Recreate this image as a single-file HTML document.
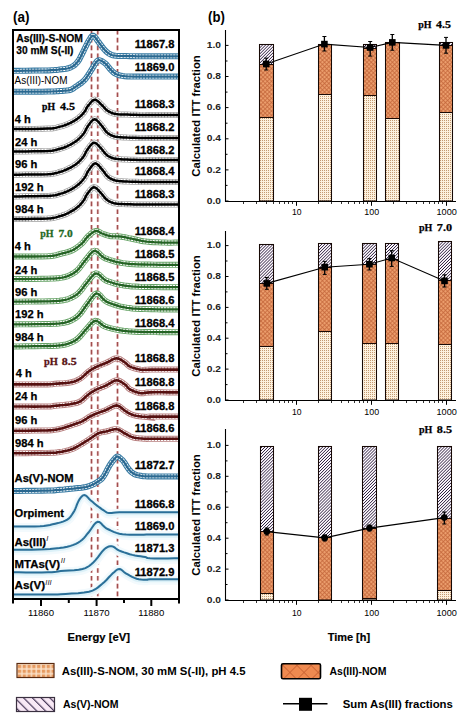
<!DOCTYPE html>
<html><head><meta charset="utf-8"><style>
html,body{margin:0;padding:0;background:#fff;width:462px;height:726px;overflow:hidden}
svg{display:block}
</style></head><body>
<svg width="462" height="726" viewBox="0 0 462 726" font-family="Liberation Sans, sans-serif">
<defs>
<pattern id="hatch" patternUnits="userSpaceOnUse" width="2.15" height="3" patternTransform="rotate(45)"><rect width="2.15" height="3" fill="#fef9fe"/><rect width="0.68" height="3" fill="#1e1232"/></pattern>
<pattern id="cross" patternUnits="userSpaceOnUse" width="3" height="3" patternTransform="rotate(45)"><rect width="3" height="3" fill="#eb9d6c"/><rect width="0.75" height="3" fill="#c4663a"/><rect width="3" height="0.75" fill="#c4663a"/></pattern>
<pattern id="stip" patternUnits="userSpaceOnUse" width="2" height="2"><rect width="2" height="2" fill="#fdf1de"/><rect width="1" height="1" fill="#c49a72"/></pattern>
<pattern id="lgrid" patternUnits="userSpaceOnUse" width="4.8" height="4.8" x="17" y="664"><rect width="4.8" height="4.8" fill="#fbe4cc"/><rect x="0.8" y="0.8" width="3.4" height="3.4" fill="#e69a60"/></pattern>
<pattern id="lhatch" patternUnits="userSpaceOnUse" width="6.2" height="6.2" patternTransform="rotate(-45)"><rect width="6.2" height="6.2" fill="#f9e9f6"/><rect width="1.2" height="6.2" fill="#4a3a5a"/></pattern>
<pattern id="lcross" patternUnits="userSpaceOnUse" width="10" height="10" patternTransform="rotate(45)"><rect width="10" height="10" fill="#ef8a50"/><rect width="0.8" height="10" fill="#c86030"/><rect width="10" height="0.8" fill="#c86030"/></pattern>
</defs>
<rect width="462" height="726" fill="#ffffff"/>
<text x="13.0" y="22.3" font-size="14.50" font-weight="bold" text-anchor="start" fill="#000" font-family="Liberation Sans" textLength="16.5" lengthAdjust="spacingAndGlyphs">(a)</text>
<line x1="91.5" y1="30" x2="91.5" y2="598" stroke="#f3d8d8" stroke-width="3" stroke-dasharray="4.6 3.2"/>
<line x1="91.5" y1="30" x2="91.5" y2="598" stroke="#a04e4e" stroke-width="1.4" stroke-dasharray="4.6 3.2"/>
<line x1="97.8" y1="30" x2="97.8" y2="598" stroke="#f3d8d8" stroke-width="3" stroke-dasharray="4.6 3.2"/>
<line x1="97.8" y1="30" x2="97.8" y2="598" stroke="#a04e4e" stroke-width="1.4" stroke-dasharray="4.6 3.2"/>
<line x1="117.5" y1="30" x2="117.5" y2="598" stroke="#f3d8d8" stroke-width="3" stroke-dasharray="4.6 3.2"/>
<line x1="117.5" y1="30" x2="117.5" y2="598" stroke="#a04e4e" stroke-width="1.4" stroke-dasharray="4.6 3.2"/>
<path d="M13.5,70.8 L18.6,70.8 L25.9,70.7 L34.2,70.6 L42.0,70.5 L48.0,70.4 L51.9,70.2 L54.5,70.1 L56.4,69.9 L58.1,69.7 L60.0,69.4 L62.2,69.2 L64.3,69.0 L66.3,68.7 L68.2,68.3 L70.0,67.7 L71.7,66.9 L73.3,66.0 L74.8,64.9 L76.2,63.5 L77.7,61.8 L79.2,59.6 L80.6,56.9 L82.0,54.1 L83.4,51.3 L84.6,48.8 L85.7,46.6 L86.8,44.5 L87.7,42.6 L88.6,40.9 L89.5,39.5 L90.3,38.2 L91.0,37.1 L91.7,36.3 L92.5,35.8 L93.3,35.8 L94.3,36.4 L95.3,37.5 L96.4,38.9 L97.4,40.5 L98.5,41.9 L99.5,43.3 L100.5,44.7 L101.6,46.1 L102.6,47.5 L103.7,48.8 L104.8,50.0 L106.0,51.2 L107.3,52.3 L108.5,53.2 L109.7,54.0 L110.8,54.6 L111.8,55.0 L112.8,55.3 L114.1,55.5 L115.8,55.7 L118.0,55.9 L120.5,56.0 L123.3,56.1 L126.4,56.1 L129.7,56.2 L133.2,56.2 L137.0,56.3 L141.0,56.3 L145.3,56.3 L150.0,56.3 L155.6,56.3 L162.2,56.3 L168.8,56.3 L174.5,56.3 L178.5,56.3" fill="none" stroke="#3a7ca4" stroke-width="6"/>
<path d="M13.5,70.8 L18.6,70.8 L25.9,70.7 L34.2,70.6 L42.0,70.5 L48.0,70.4 L51.9,70.2 L54.5,70.1 L56.4,69.9 L58.1,69.7 L60.0,69.4 L62.2,69.2 L64.3,69.0 L66.3,68.7 L68.2,68.3 L70.0,67.7 L71.7,66.9 L73.3,66.0 L74.8,64.9 L76.2,63.5 L77.7,61.8 L79.2,59.6 L80.6,56.9 L82.0,54.1 L83.4,51.3 L84.6,48.8 L85.7,46.6 L86.8,44.5 L87.7,42.6 L88.6,40.9 L89.5,39.5 L90.3,38.2 L91.0,37.1 L91.7,36.3 L92.5,35.8 L93.3,35.8 L94.3,36.4 L95.3,37.5 L96.4,38.9 L97.4,40.5 L98.5,41.9 L99.5,43.3 L100.5,44.7 L101.6,46.1 L102.6,47.5 L103.7,48.8 L104.8,50.0 L106.0,51.2 L107.3,52.3 L108.5,53.2 L109.7,54.0 L110.8,54.6 L111.8,55.0 L112.8,55.3 L114.1,55.5 L115.8,55.7 L118.0,55.9 L120.5,56.0 L123.3,56.1 L126.4,56.1 L129.7,56.2 L133.2,56.2 L137.0,56.3 L141.0,56.3 L145.3,56.3 L150.0,56.3 L155.6,56.3 L162.2,56.3 L168.8,56.3 L174.5,56.3 L178.5,56.3" fill="none" stroke="#ffffff" stroke-width="3.8" stroke-dasharray="2.2 0.9"/>
<path d="M13.5,70.8 L18.6,70.8 L25.9,70.7 L34.2,70.6 L42.0,70.5 L48.0,70.4 L51.9,70.2 L54.5,70.1 L56.4,69.9 L58.1,69.7 L60.0,69.4 L62.2,69.2 L64.3,69.0 L66.3,68.7 L68.2,68.3 L70.0,67.7 L71.7,66.9 L73.3,66.0 L74.8,64.9 L76.2,63.5 L77.7,61.8 L79.2,59.6 L80.6,56.9 L82.0,54.1 L83.4,51.3 L84.6,48.8 L85.7,46.6 L86.8,44.5 L87.7,42.6 L88.6,40.9 L89.5,39.5 L90.3,38.2 L91.0,37.1 L91.7,36.3 L92.5,35.8 L93.3,35.8 L94.3,36.4 L95.3,37.5 L96.4,38.9 L97.4,40.5 L98.5,41.9 L99.5,43.3 L100.5,44.7 L101.6,46.1 L102.6,47.5 L103.7,48.8 L104.8,50.0 L106.0,51.2 L107.3,52.3 L108.5,53.2 L109.7,54.0 L110.8,54.6 L111.8,55.0 L112.8,55.3 L114.1,55.5 L115.8,55.7 L118.0,55.9 L120.5,56.0 L123.3,56.1 L126.4,56.1 L129.7,56.2 L133.2,56.2 L137.0,56.3 L141.0,56.3 L145.3,56.3 L150.0,56.3 L155.6,56.3 L162.2,56.3 L168.8,56.3 L174.5,56.3 L178.5,56.3" fill="none" stroke="#2a6890" stroke-width="2.2"/>
<path d="M13.5,91.7 L18.6,91.7 L25.9,91.7 L34.2,91.7 L42.0,91.7 L48.0,91.6 L51.9,91.5 L54.5,91.4 L56.4,91.3 L58.1,91.2 L60.0,91.0 L62.2,90.9 L64.3,90.7 L66.4,90.6 L68.3,90.4 L70.0,90.0 L71.4,89.5 L72.6,88.9 L73.6,88.2 L74.7,87.4 L76.0,86.5 L77.6,85.5 L79.3,84.3 L81.2,83.0 L82.9,81.6 L84.6,80.0 L86.1,78.1 L87.6,76.0 L89.1,73.7 L90.4,71.5 L91.6,69.6 L92.7,67.9 L93.6,66.3 L94.4,64.8 L95.2,63.6 L96.0,62.5 L96.7,61.6 L97.3,61.0 L97.9,60.5 L98.6,60.2 L99.4,60.2 L100.4,60.5 L101.7,61.0 L102.9,61.7 L104.2,62.6 L105.4,63.5 L106.5,64.6 L107.5,65.8 L108.6,67.2 L109.6,68.5 L110.6,69.6 L111.6,70.6 L112.5,71.5 L113.5,72.4 L114.5,73.2 L115.8,73.9 L117.2,74.5 L118.7,75.1 L120.4,75.5 L122.3,75.9 L124.5,76.2 L127.3,76.4 L130.5,76.5 L133.9,76.6 L137.1,76.6 L140.0,76.6 L142.1,76.6 L143.5,76.6 L144.9,76.6 L146.9,76.6 L150.0,76.6 L155.0,76.6 L161.4,76.6 L168.3,76.6 L174.3,76.6 L178.5,76.6" fill="none" stroke="#3a7ca4" stroke-width="6"/>
<path d="M13.5,91.7 L18.6,91.7 L25.9,91.7 L34.2,91.7 L42.0,91.7 L48.0,91.6 L51.9,91.5 L54.5,91.4 L56.4,91.3 L58.1,91.2 L60.0,91.0 L62.2,90.9 L64.3,90.7 L66.4,90.6 L68.3,90.4 L70.0,90.0 L71.4,89.5 L72.6,88.9 L73.6,88.2 L74.7,87.4 L76.0,86.5 L77.6,85.5 L79.3,84.3 L81.2,83.0 L82.9,81.6 L84.6,80.0 L86.1,78.1 L87.6,76.0 L89.1,73.7 L90.4,71.5 L91.6,69.6 L92.7,67.9 L93.6,66.3 L94.4,64.8 L95.2,63.6 L96.0,62.5 L96.7,61.6 L97.3,61.0 L97.9,60.5 L98.6,60.2 L99.4,60.2 L100.4,60.5 L101.7,61.0 L102.9,61.7 L104.2,62.6 L105.4,63.5 L106.5,64.6 L107.5,65.8 L108.6,67.2 L109.6,68.5 L110.6,69.6 L111.6,70.6 L112.5,71.5 L113.5,72.4 L114.5,73.2 L115.8,73.9 L117.2,74.5 L118.7,75.1 L120.4,75.5 L122.3,75.9 L124.5,76.2 L127.3,76.4 L130.5,76.5 L133.9,76.6 L137.1,76.6 L140.0,76.6 L142.1,76.6 L143.5,76.6 L144.9,76.6 L146.9,76.6 L150.0,76.6 L155.0,76.6 L161.4,76.6 L168.3,76.6 L174.3,76.6 L178.5,76.6" fill="none" stroke="#ffffff" stroke-width="3.8" stroke-dasharray="2.2 0.9"/>
<path d="M13.5,91.7 L18.6,91.7 L25.9,91.7 L34.2,91.7 L42.0,91.7 L48.0,91.6 L51.9,91.5 L54.5,91.4 L56.4,91.3 L58.1,91.2 L60.0,91.0 L62.2,90.9 L64.3,90.7 L66.4,90.6 L68.3,90.4 L70.0,90.0 L71.4,89.5 L72.6,88.9 L73.6,88.2 L74.7,87.4 L76.0,86.5 L77.6,85.5 L79.3,84.3 L81.2,83.0 L82.9,81.6 L84.6,80.0 L86.1,78.1 L87.6,76.0 L89.1,73.7 L90.4,71.5 L91.6,69.6 L92.7,67.9 L93.6,66.3 L94.4,64.8 L95.2,63.6 L96.0,62.5 L96.7,61.6 L97.3,61.0 L97.9,60.5 L98.6,60.2 L99.4,60.2 L100.4,60.5 L101.7,61.0 L102.9,61.7 L104.2,62.6 L105.4,63.5 L106.5,64.6 L107.5,65.8 L108.6,67.2 L109.6,68.5 L110.6,69.6 L111.6,70.6 L112.5,71.5 L113.5,72.4 L114.5,73.2 L115.8,73.9 L117.2,74.5 L118.7,75.1 L120.4,75.5 L122.3,75.9 L124.5,76.2 L127.3,76.4 L130.5,76.5 L133.9,76.6 L137.1,76.6 L140.0,76.6 L142.1,76.6 L143.5,76.6 L144.9,76.6 L146.9,76.6 L150.0,76.6 L155.0,76.6 L161.4,76.6 L168.3,76.6 L174.3,76.6 L178.5,76.6" fill="none" stroke="#2a6890" stroke-width="2.2"/>
<path d="M13.5,129.1 L18.6,129.1 L25.9,129.0 L34.2,129.0 L42.1,128.8 L48.1,128.6 L52.0,128.4 L54.7,128.0 L56.6,127.6 L58.3,127.1 L60.1,126.6 L62.1,126.1 L63.8,125.6 L65.5,125.0 L67.1,124.4 L68.8,123.6 L70.6,122.8 L72.3,121.9 L74.1,120.9 L75.8,119.9 L77.4,118.8 L78.9,117.6 L80.3,116.4 L81.6,115.2 L82.8,113.9 L83.9,112.6 L84.9,111.2 L85.7,109.8 L86.4,108.4 L87.2,107.0 L88.2,105.6 L89.4,104.2 L90.6,102.7 L92.0,101.2 L93.3,100.2 L94.7,99.7 L96.1,100.0 L97.5,100.9 L99.0,102.2 L100.3,103.6 L101.6,104.8 L102.7,105.9 L103.7,107.0 L104.7,108.1 L105.6,109.2 L106.6,110.1 L107.6,110.8 L108.5,111.4 L109.5,111.9 L110.5,112.4 L111.6,112.8 L112.6,113.2 L113.6,113.5 L114.7,113.7 L116.1,114.0 L118.1,114.2 L120.7,114.4 L123.8,114.5 L127.2,114.6 L131.0,114.7 L135.1,114.8 L139.7,114.9 L144.8,114.9 L150.2,115.0 L155.4,115.0 L160.1,115.0 L164.5,115.0 L168.8,115.0 L172.8,115.0 L176.1,115.0 L178.5,115.0" fill="none" stroke="#a0a0a0" stroke-width="6"/>
<path d="M13.5,129.1 L18.6,129.1 L25.9,129.0 L34.2,129.0 L42.1,128.8 L48.1,128.6 L52.0,128.4 L54.7,128.0 L56.6,127.6 L58.3,127.1 L60.1,126.6 L62.1,126.1 L63.8,125.6 L65.5,125.0 L67.1,124.4 L68.8,123.6 L70.6,122.8 L72.3,121.9 L74.1,120.9 L75.8,119.9 L77.4,118.8 L78.9,117.6 L80.3,116.4 L81.6,115.2 L82.8,113.9 L83.9,112.6 L84.9,111.2 L85.7,109.8 L86.4,108.4 L87.2,107.0 L88.2,105.6 L89.4,104.2 L90.6,102.7 L92.0,101.2 L93.3,100.2 L94.7,99.7 L96.1,100.0 L97.5,100.9 L99.0,102.2 L100.3,103.6 L101.6,104.8 L102.7,105.9 L103.7,107.0 L104.7,108.1 L105.6,109.2 L106.6,110.1 L107.6,110.8 L108.5,111.4 L109.5,111.9 L110.5,112.4 L111.6,112.8 L112.6,113.2 L113.6,113.5 L114.7,113.7 L116.1,114.0 L118.1,114.2 L120.7,114.4 L123.8,114.5 L127.2,114.6 L131.0,114.7 L135.1,114.8 L139.7,114.9 L144.8,114.9 L150.2,115.0 L155.4,115.0 L160.1,115.0 L164.5,115.0 L168.8,115.0 L172.8,115.0 L176.1,115.0 L178.5,115.0" fill="none" stroke="#ffffff" stroke-width="4.6" stroke-dasharray="2.2 0.9"/>
<path d="M13.5,129.1 L18.6,129.1 L25.9,129.0 L34.2,129.0 L42.1,128.8 L48.1,128.6 L52.0,128.4 L54.7,128.0 L56.6,127.6 L58.3,127.1 L60.1,126.6 L62.1,126.1 L63.8,125.6 L65.5,125.0 L67.1,124.4 L68.8,123.6 L70.6,122.8 L72.3,121.9 L74.1,120.9 L75.8,119.9 L77.4,118.8 L78.9,117.6 L80.3,116.4 L81.6,115.2 L82.8,113.9 L83.9,112.6 L84.9,111.2 L85.7,109.8 L86.4,108.4 L87.2,107.0 L88.2,105.6 L89.4,104.2 L90.6,102.7 L92.0,101.2 L93.3,100.2 L94.7,99.7 L96.1,100.0 L97.5,100.9 L99.0,102.2 L100.3,103.6 L101.6,104.8 L102.7,105.9 L103.7,107.0 L104.7,108.1 L105.6,109.2 L106.6,110.1 L107.6,110.8 L108.5,111.4 L109.5,111.9 L110.5,112.4 L111.6,112.8 L112.6,113.2 L113.6,113.5 L114.7,113.7 L116.1,114.0 L118.1,114.2 L120.7,114.4 L123.8,114.5 L127.2,114.6 L131.0,114.7 L135.1,114.8 L139.7,114.9 L144.8,114.9 L150.2,115.0 L155.4,115.0 L160.1,115.0 L164.5,115.0 L168.8,115.0 L172.8,115.0 L176.1,115.0 L178.5,115.0" fill="none" stroke="#000000" stroke-width="2.5"/>
<path d="M13.5,151.5 L18.6,151.5 L25.9,151.4 L34.2,151.3 L42.0,151.2 L48.0,151.0 L51.9,150.7 L54.6,150.3 L56.5,149.8 L58.2,149.3 L60.0,148.8 L62.0,148.2 L63.7,147.7 L65.4,147.0 L67.0,146.3 L68.7,145.5 L70.5,144.6 L72.2,143.6 L74.0,142.5 L75.7,141.4 L77.3,140.2 L78.8,138.9 L80.2,137.6 L81.5,136.2 L82.7,134.8 L83.8,133.4 L84.8,131.9 L85.6,130.4 L86.3,128.8 L87.1,127.3 L88.1,125.8 L89.3,124.2 L90.5,122.5 L91.9,120.9 L93.2,119.8 L94.6,119.3 L96.0,119.7 L97.4,120.9 L98.9,122.4 L100.2,124.0 L101.5,125.5 L102.6,126.8 L103.6,128.2 L104.6,129.6 L105.5,130.9 L106.5,132.0 L107.5,132.9 L108.4,133.6 L109.4,134.2 L110.4,134.8 L111.5,135.3 L112.5,135.8 L113.5,136.1 L114.6,136.5 L116.0,136.7 L118.0,137.0 L120.6,137.2 L123.7,137.4 L127.1,137.6 L130.9,137.7 L135.0,137.8 L139.6,137.9 L144.7,137.9 L150.1,138.0 L155.3,138.0 L160.0,138.0 L164.4,138.0 L168.8,138.0 L172.7,138.0 L176.1,138.0 L178.5,138.0" fill="none" stroke="#a0a0a0" stroke-width="6"/>
<path d="M13.5,151.5 L18.6,151.5 L25.9,151.4 L34.2,151.3 L42.0,151.2 L48.0,151.0 L51.9,150.7 L54.6,150.3 L56.5,149.8 L58.2,149.3 L60.0,148.8 L62.0,148.2 L63.7,147.7 L65.4,147.0 L67.0,146.3 L68.7,145.5 L70.5,144.6 L72.2,143.6 L74.0,142.5 L75.7,141.4 L77.3,140.2 L78.8,138.9 L80.2,137.6 L81.5,136.2 L82.7,134.8 L83.8,133.4 L84.8,131.9 L85.6,130.4 L86.3,128.8 L87.1,127.3 L88.1,125.8 L89.3,124.2 L90.5,122.5 L91.9,120.9 L93.2,119.8 L94.6,119.3 L96.0,119.7 L97.4,120.9 L98.9,122.4 L100.2,124.0 L101.5,125.5 L102.6,126.8 L103.6,128.2 L104.6,129.6 L105.5,130.9 L106.5,132.0 L107.5,132.9 L108.4,133.6 L109.4,134.2 L110.4,134.8 L111.5,135.3 L112.5,135.8 L113.5,136.1 L114.6,136.5 L116.0,136.7 L118.0,137.0 L120.6,137.2 L123.7,137.4 L127.1,137.6 L130.9,137.7 L135.0,137.8 L139.6,137.9 L144.7,137.9 L150.1,138.0 L155.3,138.0 L160.0,138.0 L164.4,138.0 L168.8,138.0 L172.7,138.0 L176.1,138.0 L178.5,138.0" fill="none" stroke="#ffffff" stroke-width="4.6" stroke-dasharray="2.2 0.9"/>
<path d="M13.5,151.5 L18.6,151.5 L25.9,151.4 L34.2,151.3 L42.0,151.2 L48.0,151.0 L51.9,150.7 L54.6,150.3 L56.5,149.8 L58.2,149.3 L60.0,148.8 L62.0,148.2 L63.7,147.7 L65.4,147.0 L67.0,146.3 L68.7,145.5 L70.5,144.6 L72.2,143.6 L74.0,142.5 L75.7,141.4 L77.3,140.2 L78.8,138.9 L80.2,137.6 L81.5,136.2 L82.7,134.8 L83.8,133.4 L84.8,131.9 L85.6,130.4 L86.3,128.8 L87.1,127.3 L88.1,125.8 L89.3,124.2 L90.5,122.5 L91.9,120.9 L93.2,119.8 L94.6,119.3 L96.0,119.7 L97.4,120.9 L98.9,122.4 L100.2,124.0 L101.5,125.5 L102.6,126.8 L103.6,128.2 L104.6,129.6 L105.5,130.9 L106.5,132.0 L107.5,132.9 L108.4,133.6 L109.4,134.2 L110.4,134.8 L111.5,135.3 L112.5,135.8 L113.5,136.1 L114.6,136.5 L116.0,136.7 L118.0,137.0 L120.6,137.2 L123.7,137.4 L127.1,137.6 L130.9,137.7 L135.0,137.8 L139.6,137.9 L144.7,137.9 L150.1,138.0 L155.3,138.0 L160.0,138.0 L164.4,138.0 L168.8,138.0 L172.7,138.0 L176.1,138.0 L178.5,138.0" fill="none" stroke="#000000" stroke-width="2.5"/>
<path d="M13.5,174.7 L18.5,174.7 L25.7,174.6 L33.9,174.5 L41.6,174.4 L47.6,174.2 L51.5,173.9 L54.1,173.5 L56.1,173.1 L57.8,172.6 L59.6,172.0 L61.6,171.5 L63.3,170.9 L65.0,170.2 L66.6,169.5 L68.3,168.7 L70.1,167.8 L71.8,166.8 L73.6,165.8 L75.3,164.7 L76.9,163.5 L78.4,162.2 L79.8,160.9 L81.1,159.5 L82.3,158.1 L83.4,156.7 L84.4,155.2 L85.2,153.7 L85.9,152.1 L86.7,150.6 L87.7,149.2 L88.9,147.6 L90.1,145.9 L91.5,144.4 L92.8,143.2 L94.2,142.7 L95.6,143.1 L97.0,144.1 L98.5,145.5 L99.8,147.1 L101.1,148.4 L102.2,149.7 L103.2,151.0 L104.2,152.2 L105.1,153.4 L106.1,154.4 L107.1,155.3 L108.0,156.0 L109.0,156.5 L110.0,157.0 L111.1,157.5 L112.1,157.9 L113.1,158.3 L114.2,158.6 L115.6,158.8 L117.6,159.1 L120.2,159.3 L123.3,159.5 L126.7,159.6 L130.5,159.7 L134.6,159.8 L139.2,159.9 L144.3,159.9 L149.7,160.0 L154.9,160.0 L159.6,160.0 L164.1,160.0 L168.5,160.0 L172.6,160.0 L176.0,160.0 L178.5,160.0" fill="none" stroke="#a0a0a0" stroke-width="6"/>
<path d="M13.5,174.7 L18.5,174.7 L25.7,174.6 L33.9,174.5 L41.6,174.4 L47.6,174.2 L51.5,173.9 L54.1,173.5 L56.1,173.1 L57.8,172.6 L59.6,172.0 L61.6,171.5 L63.3,170.9 L65.0,170.2 L66.6,169.5 L68.3,168.7 L70.1,167.8 L71.8,166.8 L73.6,165.8 L75.3,164.7 L76.9,163.5 L78.4,162.2 L79.8,160.9 L81.1,159.5 L82.3,158.1 L83.4,156.7 L84.4,155.2 L85.2,153.7 L85.9,152.1 L86.7,150.6 L87.7,149.2 L88.9,147.6 L90.1,145.9 L91.5,144.4 L92.8,143.2 L94.2,142.7 L95.6,143.1 L97.0,144.1 L98.5,145.5 L99.8,147.1 L101.1,148.4 L102.2,149.7 L103.2,151.0 L104.2,152.2 L105.1,153.4 L106.1,154.4 L107.1,155.3 L108.0,156.0 L109.0,156.5 L110.0,157.0 L111.1,157.5 L112.1,157.9 L113.1,158.3 L114.2,158.6 L115.6,158.8 L117.6,159.1 L120.2,159.3 L123.3,159.5 L126.7,159.6 L130.5,159.7 L134.6,159.8 L139.2,159.9 L144.3,159.9 L149.7,160.0 L154.9,160.0 L159.6,160.0 L164.1,160.0 L168.5,160.0 L172.6,160.0 L176.0,160.0 L178.5,160.0" fill="none" stroke="#ffffff" stroke-width="4.6" stroke-dasharray="2.2 0.9"/>
<path d="M13.5,174.7 L18.5,174.7 L25.7,174.6 L33.9,174.5 L41.6,174.4 L47.6,174.2 L51.5,173.9 L54.1,173.5 L56.1,173.1 L57.8,172.6 L59.6,172.0 L61.6,171.5 L63.3,170.9 L65.0,170.2 L66.6,169.5 L68.3,168.7 L70.1,167.8 L71.8,166.8 L73.6,165.8 L75.3,164.7 L76.9,163.5 L78.4,162.2 L79.8,160.9 L81.1,159.5 L82.3,158.1 L83.4,156.7 L84.4,155.2 L85.2,153.7 L85.9,152.1 L86.7,150.6 L87.7,149.2 L88.9,147.6 L90.1,145.9 L91.5,144.4 L92.8,143.2 L94.2,142.7 L95.6,143.1 L97.0,144.1 L98.5,145.5 L99.8,147.1 L101.1,148.4 L102.2,149.7 L103.2,151.0 L104.2,152.2 L105.1,153.4 L106.1,154.4 L107.1,155.3 L108.0,156.0 L109.0,156.5 L110.0,157.0 L111.1,157.5 L112.1,157.9 L113.1,158.3 L114.2,158.6 L115.6,158.8 L117.6,159.1 L120.2,159.3 L123.3,159.5 L126.7,159.6 L130.5,159.7 L134.6,159.8 L139.2,159.9 L144.3,159.9 L149.7,160.0 L154.9,160.0 L159.6,160.0 L164.1,160.0 L168.5,160.0 L172.6,160.0 L176.0,160.0 L178.5,160.0" fill="none" stroke="#000000" stroke-width="2.5"/>
<path d="M13.5,196.4 L18.7,196.4 L26.2,196.3 L34.6,196.2 L42.6,196.1 L48.7,195.9 L52.6,195.6 L55.3,195.2 L57.3,194.7 L58.9,194.2 L60.7,193.6 L62.7,193.1 L64.4,192.5 L66.1,191.8 L67.7,191.1 L69.4,190.3 L71.2,189.3 L72.9,188.3 L74.7,187.2 L76.4,186.0 L78.0,184.8 L79.5,183.5 L80.9,182.2 L82.2,180.8 L83.4,179.3 L84.5,177.9 L85.5,176.3 L86.3,174.7 L87.0,173.1 L87.8,171.6 L88.8,170.1 L90.0,168.5 L91.2,166.7 L92.6,165.1 L93.9,163.9 L95.3,163.4 L96.7,163.8 L98.1,164.9 L99.6,166.5 L100.9,168.1 L102.2,169.6 L103.3,170.9 L104.3,172.3 L105.3,173.7 L106.2,174.9 L107.2,176.0 L108.2,176.9 L109.1,177.7 L110.1,178.3 L111.1,178.8 L112.2,179.3 L113.2,179.8 L114.2,180.1 L115.3,180.5 L116.7,180.7 L118.7,181.0 L121.3,181.2 L124.4,181.4 L127.8,181.6 L131.6,181.7 L135.7,181.8 L140.3,181.9 L145.5,181.9 L150.8,182.0 L156.0,182.0 L160.7,182.0 L165.0,182.0 L169.2,182.0 L173.0,182.0 L176.2,182.0 L178.5,182.0" fill="none" stroke="#a0a0a0" stroke-width="6"/>
<path d="M13.5,196.4 L18.7,196.4 L26.2,196.3 L34.6,196.2 L42.6,196.1 L48.7,195.9 L52.6,195.6 L55.3,195.2 L57.3,194.7 L58.9,194.2 L60.7,193.6 L62.7,193.1 L64.4,192.5 L66.1,191.8 L67.7,191.1 L69.4,190.3 L71.2,189.3 L72.9,188.3 L74.7,187.2 L76.4,186.0 L78.0,184.8 L79.5,183.5 L80.9,182.2 L82.2,180.8 L83.4,179.3 L84.5,177.9 L85.5,176.3 L86.3,174.7 L87.0,173.1 L87.8,171.6 L88.8,170.1 L90.0,168.5 L91.2,166.7 L92.6,165.1 L93.9,163.9 L95.3,163.4 L96.7,163.8 L98.1,164.9 L99.6,166.5 L100.9,168.1 L102.2,169.6 L103.3,170.9 L104.3,172.3 L105.3,173.7 L106.2,174.9 L107.2,176.0 L108.2,176.9 L109.1,177.7 L110.1,178.3 L111.1,178.8 L112.2,179.3 L113.2,179.8 L114.2,180.1 L115.3,180.5 L116.7,180.7 L118.7,181.0 L121.3,181.2 L124.4,181.4 L127.8,181.6 L131.6,181.7 L135.7,181.8 L140.3,181.9 L145.5,181.9 L150.8,182.0 L156.0,182.0 L160.7,182.0 L165.0,182.0 L169.2,182.0 L173.0,182.0 L176.2,182.0 L178.5,182.0" fill="none" stroke="#ffffff" stroke-width="4.6" stroke-dasharray="2.2 0.9"/>
<path d="M13.5,196.4 L18.7,196.4 L26.2,196.3 L34.6,196.2 L42.6,196.1 L48.7,195.9 L52.6,195.6 L55.3,195.2 L57.3,194.7 L58.9,194.2 L60.7,193.6 L62.7,193.1 L64.4,192.5 L66.1,191.8 L67.7,191.1 L69.4,190.3 L71.2,189.3 L72.9,188.3 L74.7,187.2 L76.4,186.0 L78.0,184.8 L79.5,183.5 L80.9,182.2 L82.2,180.8 L83.4,179.3 L84.5,177.9 L85.5,176.3 L86.3,174.7 L87.0,173.1 L87.8,171.6 L88.8,170.1 L90.0,168.5 L91.2,166.7 L92.6,165.1 L93.9,163.9 L95.3,163.4 L96.7,163.8 L98.1,164.9 L99.6,166.5 L100.9,168.1 L102.2,169.6 L103.3,170.9 L104.3,172.3 L105.3,173.7 L106.2,174.9 L107.2,176.0 L108.2,176.9 L109.1,177.7 L110.1,178.3 L111.1,178.8 L112.2,179.3 L113.2,179.8 L114.2,180.1 L115.3,180.5 L116.7,180.7 L118.7,181.0 L121.3,181.2 L124.4,181.4 L127.8,181.6 L131.6,181.7 L135.7,181.8 L140.3,181.9 L145.5,181.9 L150.8,182.0 L156.0,182.0 L160.7,182.0 L165.0,182.0 L169.2,182.0 L173.0,182.0 L176.2,182.0 L178.5,182.0" fill="none" stroke="#000000" stroke-width="2.5"/>
<path d="M13.5,219.0 L18.5,219.0 L25.7,218.9 L33.8,218.8 L41.5,218.7 L47.4,218.5 L51.3,218.2 L53.9,217.8 L55.9,217.4 L57.6,216.9 L59.4,216.3 L61.4,215.8 L63.1,215.2 L64.8,214.6 L66.4,213.9 L68.1,213.1 L69.9,212.2 L71.6,211.2 L73.4,210.1 L75.1,209.0 L76.7,207.8 L78.2,206.6 L79.6,205.3 L80.9,203.9 L82.1,202.5 L83.2,201.1 L84.2,199.7 L85.0,198.1 L85.7,196.6 L86.5,195.1 L87.5,193.6 L88.7,192.1 L89.9,190.4 L91.3,188.8 L92.6,187.7 L94.0,187.2 L95.4,187.6 L96.8,188.6 L98.3,190.1 L99.6,191.6 L100.9,193.0 L102.0,194.2 L103.0,195.5 L104.0,196.8 L104.9,198.0 L105.9,199.0 L106.9,199.8 L107.8,200.5 L108.8,201.1 L109.8,201.6 L110.9,202.1 L111.9,202.5 L112.9,202.9 L114.0,203.2 L115.4,203.4 L117.4,203.7 L120.0,203.9 L123.1,204.1 L126.5,204.2 L130.3,204.3 L134.4,204.4 L139.0,204.5 L144.1,204.5 L149.4,204.6 L154.6,204.6 L159.4,204.6 L163.9,204.6 L168.4,204.6 L172.5,204.6 L176.0,204.6 L178.5,204.6" fill="none" stroke="#a0a0a0" stroke-width="6"/>
<path d="M13.5,219.0 L18.5,219.0 L25.7,218.9 L33.8,218.8 L41.5,218.7 L47.4,218.5 L51.3,218.2 L53.9,217.8 L55.9,217.4 L57.6,216.9 L59.4,216.3 L61.4,215.8 L63.1,215.2 L64.8,214.6 L66.4,213.9 L68.1,213.1 L69.9,212.2 L71.6,211.2 L73.4,210.1 L75.1,209.0 L76.7,207.8 L78.2,206.6 L79.6,205.3 L80.9,203.9 L82.1,202.5 L83.2,201.1 L84.2,199.7 L85.0,198.1 L85.7,196.6 L86.5,195.1 L87.5,193.6 L88.7,192.1 L89.9,190.4 L91.3,188.8 L92.6,187.7 L94.0,187.2 L95.4,187.6 L96.8,188.6 L98.3,190.1 L99.6,191.6 L100.9,193.0 L102.0,194.2 L103.0,195.5 L104.0,196.8 L104.9,198.0 L105.9,199.0 L106.9,199.8 L107.8,200.5 L108.8,201.1 L109.8,201.6 L110.9,202.1 L111.9,202.5 L112.9,202.9 L114.0,203.2 L115.4,203.4 L117.4,203.7 L120.0,203.9 L123.1,204.1 L126.5,204.2 L130.3,204.3 L134.4,204.4 L139.0,204.5 L144.1,204.5 L149.4,204.6 L154.6,204.6 L159.4,204.6 L163.9,204.6 L168.4,204.6 L172.5,204.6 L176.0,204.6 L178.5,204.6" fill="none" stroke="#ffffff" stroke-width="4.6" stroke-dasharray="2.2 0.9"/>
<path d="M13.5,219.0 L18.5,219.0 L25.7,218.9 L33.8,218.8 L41.5,218.7 L47.4,218.5 L51.3,218.2 L53.9,217.8 L55.9,217.4 L57.6,216.9 L59.4,216.3 L61.4,215.8 L63.1,215.2 L64.8,214.6 L66.4,213.9 L68.1,213.1 L69.9,212.2 L71.6,211.2 L73.4,210.1 L75.1,209.0 L76.7,207.8 L78.2,206.6 L79.6,205.3 L80.9,203.9 L82.1,202.5 L83.2,201.1 L84.2,199.7 L85.0,198.1 L85.7,196.6 L86.5,195.1 L87.5,193.6 L88.7,192.1 L89.9,190.4 L91.3,188.8 L92.6,187.7 L94.0,187.2 L95.4,187.6 L96.8,188.6 L98.3,190.1 L99.6,191.6 L100.9,193.0 L102.0,194.2 L103.0,195.5 L104.0,196.8 L104.9,198.0 L105.9,199.0 L106.9,199.8 L107.8,200.5 L108.8,201.1 L109.8,201.6 L110.9,202.1 L111.9,202.5 L112.9,202.9 L114.0,203.2 L115.4,203.4 L117.4,203.7 L120.0,203.9 L123.1,204.1 L126.5,204.2 L130.3,204.3 L134.4,204.4 L139.0,204.5 L144.1,204.5 L149.4,204.6 L154.6,204.6 L159.4,204.6 L163.9,204.6 L168.4,204.6 L172.5,204.6 L176.0,204.6 L178.5,204.6" fill="none" stroke="#000000" stroke-width="2.5"/>
<path d="M13.5,256.5 L18.6,256.5 L25.9,256.5 L34.2,256.5 L42.0,256.4 L48.0,256.2 L51.8,255.9 L54.4,255.5 L56.3,255.1 L58.0,254.6 L60.0,254.0 L62.4,253.4 L64.9,252.8 L67.4,252.2 L69.8,251.4 L72.0,250.5 L74.1,249.4 L76.2,248.1 L78.1,246.7 L79.9,245.2 L81.6,243.8 L83.1,242.3 L84.4,240.7 L85.6,239.1 L86.8,237.6 L88.1,236.2 L89.6,234.9 L91.1,233.6 L92.7,232.4 L94.2,231.5 L95.7,231.0 L97.0,231.0 L98.2,231.4 L99.4,232.1 L100.7,232.9 L102.0,233.5 L103.5,234.0 L105.1,234.6 L106.7,235.2 L108.3,235.6 L109.8,236.0 L111.1,236.2 L112.4,236.3 L113.5,236.3 L114.7,236.3 L116.0,236.3 L117.3,236.4 L118.6,236.4 L119.9,236.5 L121.4,236.7 L123.0,236.9 L124.8,237.2 L126.6,237.6 L128.6,238.1 L130.7,238.5 L133.0,239.0 L135.4,239.5 L138.0,240.1 L140.6,240.7 L143.5,241.2 L146.6,241.6 L150.1,241.9 L153.8,242.2 L157.8,242.3 L161.6,242.5 L165.0,242.6 L168.2,242.7 L171.4,242.7 L174.3,242.6 L176.7,242.6 L178.5,242.6" fill="none" stroke="#68a468" stroke-width="6"/>
<path d="M13.5,256.5 L18.6,256.5 L25.9,256.5 L34.2,256.5 L42.0,256.4 L48.0,256.2 L51.8,255.9 L54.4,255.5 L56.3,255.1 L58.0,254.6 L60.0,254.0 L62.4,253.4 L64.9,252.8 L67.4,252.2 L69.8,251.4 L72.0,250.5 L74.1,249.4 L76.2,248.1 L78.1,246.7 L79.9,245.2 L81.6,243.8 L83.1,242.3 L84.4,240.7 L85.6,239.1 L86.8,237.6 L88.1,236.2 L89.6,234.9 L91.1,233.6 L92.7,232.4 L94.2,231.5 L95.7,231.0 L97.0,231.0 L98.2,231.4 L99.4,232.1 L100.7,232.9 L102.0,233.5 L103.5,234.0 L105.1,234.6 L106.7,235.2 L108.3,235.6 L109.8,236.0 L111.1,236.2 L112.4,236.3 L113.5,236.3 L114.7,236.3 L116.0,236.3 L117.3,236.4 L118.6,236.4 L119.9,236.5 L121.4,236.7 L123.0,236.9 L124.8,237.2 L126.6,237.6 L128.6,238.1 L130.7,238.5 L133.0,239.0 L135.4,239.5 L138.0,240.1 L140.6,240.7 L143.5,241.2 L146.6,241.6 L150.1,241.9 L153.8,242.2 L157.8,242.3 L161.6,242.5 L165.0,242.6 L168.2,242.7 L171.4,242.7 L174.3,242.6 L176.7,242.6 L178.5,242.6" fill="none" stroke="#ffffff" stroke-width="4.2" stroke-dasharray="2.2 0.9"/>
<path d="M13.5,256.5 L18.6,256.5 L25.9,256.5 L34.2,256.5 L42.0,256.4 L48.0,256.2 L51.8,255.9 L54.4,255.5 L56.3,255.1 L58.0,254.6 L60.0,254.0 L62.4,253.4 L64.9,252.8 L67.4,252.2 L69.8,251.4 L72.0,250.5 L74.1,249.4 L76.2,248.1 L78.1,246.7 L79.9,245.2 L81.6,243.8 L83.1,242.3 L84.4,240.7 L85.6,239.1 L86.8,237.6 L88.1,236.2 L89.6,234.9 L91.1,233.6 L92.7,232.4 L94.2,231.5 L95.7,231.0 L97.0,231.0 L98.2,231.4 L99.4,232.1 L100.7,232.9 L102.0,233.5 L103.5,234.0 L105.1,234.6 L106.7,235.2 L108.3,235.6 L109.8,236.0 L111.1,236.2 L112.4,236.3 L113.5,236.3 L114.7,236.3 L116.0,236.3 L117.3,236.4 L118.6,236.4 L119.9,236.5 L121.4,236.7 L123.0,236.9 L124.8,237.2 L126.6,237.6 L128.6,238.1 L130.7,238.5 L133.0,239.0 L135.4,239.5 L138.0,240.1 L140.6,240.7 L143.5,241.2 L146.6,241.6 L150.1,241.9 L153.8,242.2 L157.8,242.3 L161.6,242.5 L165.0,242.6 L168.2,242.7 L171.4,242.7 L174.3,242.6 L176.7,242.6 L178.5,242.6" fill="none" stroke="#246224" stroke-width="2.3"/>
<path d="M13.5,279.1 L18.6,279.1 L25.9,279.0 L34.2,278.9 L42.0,278.8 L48.0,278.7 L51.9,278.6 L54.6,278.5 L56.5,278.3 L58.2,278.2 L60.0,277.9 L62.0,277.6 L63.7,277.3 L65.4,276.9 L67.0,276.4 L68.7,275.7 L70.4,274.9 L72.1,274.0 L73.9,273.0 L75.6,271.8 L77.3,270.3 L79.0,268.5 L80.8,266.3 L82.5,263.9 L84.3,261.6 L86.0,259.5 L87.7,257.4 L89.4,255.1 L91.2,253.1 L92.9,251.5 L94.6,250.8 L96.3,251.2 L98.1,252.5 L99.8,254.2 L101.6,256.0 L103.3,257.3 L105.0,258.2 L106.8,258.9 L108.5,259.5 L110.3,260.1 L112.0,260.6 L113.7,261.1 L115.2,261.6 L116.8,262.0 L118.6,262.3 L120.6,262.7 L122.7,263.1 L124.9,263.4 L127.3,263.7 L130.1,264.0 L133.6,264.2 L138.1,264.4 L143.4,264.5 L149.1,264.6 L154.6,264.7 L159.6,264.8 L164.1,264.8 L168.6,264.8 L172.6,264.8 L176.0,264.8 L178.5,264.8" fill="none" stroke="#68a468" stroke-width="6"/>
<path d="M13.5,279.1 L18.6,279.1 L25.9,279.0 L34.2,278.9 L42.0,278.8 L48.0,278.7 L51.9,278.6 L54.6,278.5 L56.5,278.3 L58.2,278.2 L60.0,277.9 L62.0,277.6 L63.7,277.3 L65.4,276.9 L67.0,276.4 L68.7,275.7 L70.4,274.9 L72.1,274.0 L73.9,273.0 L75.6,271.8 L77.3,270.3 L79.0,268.5 L80.8,266.3 L82.5,263.9 L84.3,261.6 L86.0,259.5 L87.7,257.4 L89.4,255.1 L91.2,253.1 L92.9,251.5 L94.6,250.8 L96.3,251.2 L98.1,252.5 L99.8,254.2 L101.6,256.0 L103.3,257.3 L105.0,258.2 L106.8,258.9 L108.5,259.5 L110.3,260.1 L112.0,260.6 L113.7,261.1 L115.2,261.6 L116.8,262.0 L118.6,262.3 L120.6,262.7 L122.7,263.1 L124.9,263.4 L127.3,263.7 L130.1,264.0 L133.6,264.2 L138.1,264.4 L143.4,264.5 L149.1,264.6 L154.6,264.7 L159.6,264.8 L164.1,264.8 L168.6,264.8 L172.6,264.8 L176.0,264.8 L178.5,264.8" fill="none" stroke="#ffffff" stroke-width="4.2" stroke-dasharray="2.2 0.9"/>
<path d="M13.5,279.1 L18.6,279.1 L25.9,279.0 L34.2,278.9 L42.0,278.8 L48.0,278.7 L51.9,278.6 L54.6,278.5 L56.5,278.3 L58.2,278.2 L60.0,277.9 L62.0,277.6 L63.7,277.3 L65.4,276.9 L67.0,276.4 L68.7,275.7 L70.4,274.9 L72.1,274.0 L73.9,273.0 L75.6,271.8 L77.3,270.3 L79.0,268.5 L80.8,266.3 L82.5,263.9 L84.3,261.6 L86.0,259.5 L87.7,257.4 L89.4,255.1 L91.2,253.1 L92.9,251.5 L94.6,250.8 L96.3,251.2 L98.1,252.5 L99.8,254.2 L101.6,256.0 L103.3,257.3 L105.0,258.2 L106.8,258.9 L108.5,259.5 L110.3,260.1 L112.0,260.6 L113.7,261.1 L115.2,261.6 L116.8,262.0 L118.6,262.3 L120.6,262.7 L122.7,263.1 L124.9,263.4 L127.3,263.7 L130.1,264.0 L133.6,264.2 L138.1,264.4 L143.4,264.5 L149.1,264.6 L154.6,264.7 L159.6,264.8 L164.1,264.8 L168.6,264.8 L172.6,264.8 L176.0,264.8 L178.5,264.8" fill="none" stroke="#246224" stroke-width="2.3"/>
<path d="M13.5,301.7 L18.8,301.7 L26.4,301.6 L35.0,301.5 L43.2,301.4 L49.4,301.3 L53.4,301.2 L56.1,301.1 L58.0,300.9 L59.6,300.8 L61.4,300.5 L63.4,300.2 L65.1,299.9 L66.8,299.5 L68.4,299.0 L70.1,298.3 L71.8,297.5 L73.5,296.6 L75.3,295.6 L77.0,294.4 L78.7,292.9 L80.4,291.1 L82.2,288.9 L83.9,286.5 L85.7,284.2 L87.4,282.1 L89.1,280.0 L90.8,277.7 L92.6,275.7 L94.3,274.1 L96.0,273.4 L97.7,273.8 L99.5,275.0 L101.2,276.7 L103.0,278.5 L104.7,279.8 L106.4,280.7 L108.2,281.4 L109.9,282.0 L111.7,282.5 L113.4,283.1 L115.1,283.6 L116.6,284.0 L118.2,284.4 L120.0,284.8 L122.0,285.1 L124.1,285.5 L126.3,285.8 L128.7,286.1 L131.5,286.4 L135.0,286.6 L139.5,286.8 L144.9,286.9 L150.6,287.0 L156.1,287.1 L161.0,287.2 L165.3,287.2 L169.5,287.2 L173.2,287.2 L176.3,287.2 L178.5,287.2" fill="none" stroke="#68a468" stroke-width="6"/>
<path d="M13.5,301.7 L18.8,301.7 L26.4,301.6 L35.0,301.5 L43.2,301.4 L49.4,301.3 L53.4,301.2 L56.1,301.1 L58.0,300.9 L59.6,300.8 L61.4,300.5 L63.4,300.2 L65.1,299.9 L66.8,299.5 L68.4,299.0 L70.1,298.3 L71.8,297.5 L73.5,296.6 L75.3,295.6 L77.0,294.4 L78.7,292.9 L80.4,291.1 L82.2,288.9 L83.9,286.5 L85.7,284.2 L87.4,282.1 L89.1,280.0 L90.8,277.7 L92.6,275.7 L94.3,274.1 L96.0,273.4 L97.7,273.8 L99.5,275.0 L101.2,276.7 L103.0,278.5 L104.7,279.8 L106.4,280.7 L108.2,281.4 L109.9,282.0 L111.7,282.5 L113.4,283.1 L115.1,283.6 L116.6,284.0 L118.2,284.4 L120.0,284.8 L122.0,285.1 L124.1,285.5 L126.3,285.8 L128.7,286.1 L131.5,286.4 L135.0,286.6 L139.5,286.8 L144.9,286.9 L150.6,287.0 L156.1,287.1 L161.0,287.2 L165.3,287.2 L169.5,287.2 L173.2,287.2 L176.3,287.2 L178.5,287.2" fill="none" stroke="#ffffff" stroke-width="4.2" stroke-dasharray="2.2 0.9"/>
<path d="M13.5,301.7 L18.8,301.7 L26.4,301.6 L35.0,301.5 L43.2,301.4 L49.4,301.3 L53.4,301.2 L56.1,301.1 L58.0,300.9 L59.6,300.8 L61.4,300.5 L63.4,300.2 L65.1,299.9 L66.8,299.5 L68.4,299.0 L70.1,298.3 L71.8,297.5 L73.5,296.6 L75.3,295.6 L77.0,294.4 L78.7,292.9 L80.4,291.1 L82.2,288.9 L83.9,286.5 L85.7,284.2 L87.4,282.1 L89.1,280.0 L90.8,277.7 L92.6,275.7 L94.3,274.1 L96.0,273.4 L97.7,273.8 L99.5,275.0 L101.2,276.7 L103.0,278.5 L104.7,279.8 L106.4,280.7 L108.2,281.4 L109.9,282.0 L111.7,282.5 L113.4,283.1 L115.1,283.6 L116.6,284.0 L118.2,284.4 L120.0,284.8 L122.0,285.1 L124.1,285.5 L126.3,285.8 L128.7,286.1 L131.5,286.4 L135.0,286.6 L139.5,286.8 L144.9,286.9 L150.6,287.0 L156.1,287.1 L161.0,287.2 L165.3,287.2 L169.5,287.2 L173.2,287.2 L176.3,287.2 L178.5,287.2" fill="none" stroke="#246224" stroke-width="2.3"/>
<path d="M13.5,324.4 L18.9,324.3 L26.6,324.3 L35.4,324.2 L43.7,324.1 L50.0,324.0 L54.0,323.8 L56.7,323.7 L58.6,323.6 L60.2,323.4 L62.0,323.1 L64.0,322.8 L65.7,322.4 L67.4,322.0 L69.0,321.4 L70.7,320.7 L72.4,319.8 L74.1,318.9 L75.9,317.7 L77.6,316.4 L79.3,314.8 L81.0,312.8 L82.8,310.4 L84.5,307.8 L86.3,305.3 L88.0,303.0 L89.7,300.7 L91.4,298.2 L93.2,296.0 L94.9,294.3 L96.6,293.5 L98.3,294.0 L100.1,295.4 L101.8,297.4 L103.6,299.4 L105.3,300.9 L107.0,301.9 L108.8,302.7 L110.5,303.4 L112.3,304.0 L114.0,304.6 L115.7,305.2 L117.2,305.7 L118.8,306.2 L120.6,306.6 L122.6,307.0 L124.7,307.4 L126.9,307.8 L129.3,308.1 L132.1,308.5 L135.6,308.7 L140.1,308.9 L145.5,309.1 L151.2,309.2 L156.8,309.3 L161.6,309.4 L165.8,309.4 L169.8,309.4 L173.4,309.4 L176.3,309.4 L178.5,309.4" fill="none" stroke="#68a468" stroke-width="6"/>
<path d="M13.5,324.4 L18.9,324.3 L26.6,324.3 L35.4,324.2 L43.7,324.1 L50.0,324.0 L54.0,323.8 L56.7,323.7 L58.6,323.6 L60.2,323.4 L62.0,323.1 L64.0,322.8 L65.7,322.4 L67.4,322.0 L69.0,321.4 L70.7,320.7 L72.4,319.8 L74.1,318.9 L75.9,317.7 L77.6,316.4 L79.3,314.8 L81.0,312.8 L82.8,310.4 L84.5,307.8 L86.3,305.3 L88.0,303.0 L89.7,300.7 L91.4,298.2 L93.2,296.0 L94.9,294.3 L96.6,293.5 L98.3,294.0 L100.1,295.4 L101.8,297.4 L103.6,299.4 L105.3,300.9 L107.0,301.9 L108.8,302.7 L110.5,303.4 L112.3,304.0 L114.0,304.6 L115.7,305.2 L117.2,305.7 L118.8,306.2 L120.6,306.6 L122.6,307.0 L124.7,307.4 L126.9,307.8 L129.3,308.1 L132.1,308.5 L135.6,308.7 L140.1,308.9 L145.5,309.1 L151.2,309.2 L156.8,309.3 L161.6,309.4 L165.8,309.4 L169.8,309.4 L173.4,309.4 L176.3,309.4 L178.5,309.4" fill="none" stroke="#ffffff" stroke-width="4.2" stroke-dasharray="2.2 0.9"/>
<path d="M13.5,324.4 L18.9,324.3 L26.6,324.3 L35.4,324.2 L43.7,324.1 L50.0,324.0 L54.0,323.8 L56.7,323.7 L58.6,323.6 L60.2,323.4 L62.0,323.1 L64.0,322.8 L65.7,322.4 L67.4,322.0 L69.0,321.4 L70.7,320.7 L72.4,319.8 L74.1,318.9 L75.9,317.7 L77.6,316.4 L79.3,314.8 L81.0,312.8 L82.8,310.4 L84.5,307.8 L86.3,305.3 L88.0,303.0 L89.7,300.7 L91.4,298.2 L93.2,296.0 L94.9,294.3 L96.6,293.5 L98.3,294.0 L100.1,295.4 L101.8,297.4 L103.6,299.4 L105.3,300.9 L107.0,301.9 L108.8,302.7 L110.5,303.4 L112.3,304.0 L114.0,304.6 L115.7,305.2 L117.2,305.7 L118.8,306.2 L120.6,306.6 L122.6,307.0 L124.7,307.4 L126.9,307.8 L129.3,308.1 L132.1,308.5 L135.6,308.7 L140.1,308.9 L145.5,309.1 L151.2,309.2 L156.8,309.3 L161.6,309.4 L165.8,309.4 L169.8,309.4 L173.4,309.4 L176.3,309.4 L178.5,309.4" fill="none" stroke="#246224" stroke-width="2.3"/>
<path d="M13.5,346.4 L18.7,346.4 L26.2,346.3 L34.6,346.2 L42.6,346.1 L48.7,346.0 L52.6,345.9 L55.3,345.8 L57.3,345.7 L58.9,345.5 L60.7,345.3 L62.7,345.0 L64.4,344.7 L66.1,344.4 L67.7,343.9 L69.4,343.3 L71.1,342.6 L72.8,341.8 L74.6,340.9 L76.3,339.8 L78.0,338.4 L79.7,336.8 L81.5,334.8 L83.2,332.7 L85.0,330.6 L86.7,328.7 L88.4,326.8 L90.1,324.8 L91.9,322.9 L93.6,321.5 L95.3,320.8 L97.0,321.1 L98.8,322.1 L100.5,323.5 L102.3,325.0 L104.0,326.1 L105.7,326.8 L107.5,327.4 L109.2,327.9 L111.0,328.3 L112.7,328.8 L114.4,329.2 L115.9,329.6 L117.5,329.9 L119.3,330.2 L121.3,330.5 L123.4,330.8 L125.6,331.0 L128.0,331.3 L130.8,331.5 L134.3,331.7 L138.8,331.9 L144.1,332.0 L149.8,332.1 L155.4,332.1 L160.3,332.2 L164.7,332.2 L169.0,332.2 L172.9,332.2 L176.1,332.2 L178.5,332.2" fill="none" stroke="#68a468" stroke-width="6"/>
<path d="M13.5,346.4 L18.7,346.4 L26.2,346.3 L34.6,346.2 L42.6,346.1 L48.7,346.0 L52.6,345.9 L55.3,345.8 L57.3,345.7 L58.9,345.5 L60.7,345.3 L62.7,345.0 L64.4,344.7 L66.1,344.4 L67.7,343.9 L69.4,343.3 L71.1,342.6 L72.8,341.8 L74.6,340.9 L76.3,339.8 L78.0,338.4 L79.7,336.8 L81.5,334.8 L83.2,332.7 L85.0,330.6 L86.7,328.7 L88.4,326.8 L90.1,324.8 L91.9,322.9 L93.6,321.5 L95.3,320.8 L97.0,321.1 L98.8,322.1 L100.5,323.5 L102.3,325.0 L104.0,326.1 L105.7,326.8 L107.5,327.4 L109.2,327.9 L111.0,328.3 L112.7,328.8 L114.4,329.2 L115.9,329.6 L117.5,329.9 L119.3,330.2 L121.3,330.5 L123.4,330.8 L125.6,331.0 L128.0,331.3 L130.8,331.5 L134.3,331.7 L138.8,331.9 L144.1,332.0 L149.8,332.1 L155.4,332.1 L160.3,332.2 L164.7,332.2 L169.0,332.2 L172.9,332.2 L176.1,332.2 L178.5,332.2" fill="none" stroke="#ffffff" stroke-width="4.2" stroke-dasharray="2.2 0.9"/>
<path d="M13.5,346.4 L18.7,346.4 L26.2,346.3 L34.6,346.2 L42.6,346.1 L48.7,346.0 L52.6,345.9 L55.3,345.8 L57.3,345.7 L58.9,345.5 L60.7,345.3 L62.7,345.0 L64.4,344.7 L66.1,344.4 L67.7,343.9 L69.4,343.3 L71.1,342.6 L72.8,341.8 L74.6,340.9 L76.3,339.8 L78.0,338.4 L79.7,336.8 L81.5,334.8 L83.2,332.7 L85.0,330.6 L86.7,328.7 L88.4,326.8 L90.1,324.8 L91.9,322.9 L93.6,321.5 L95.3,320.8 L97.0,321.1 L98.8,322.1 L100.5,323.5 L102.3,325.0 L104.0,326.1 L105.7,326.8 L107.5,327.4 L109.2,327.9 L111.0,328.3 L112.7,328.8 L114.4,329.2 L115.9,329.6 L117.5,329.9 L119.3,330.2 L121.3,330.5 L123.4,330.8 L125.6,331.0 L128.0,331.3 L130.8,331.5 L134.3,331.7 L138.8,331.9 L144.1,332.0 L149.8,332.1 L155.4,332.1 L160.3,332.2 L164.7,332.2 L169.0,332.2 L172.9,332.2 L176.1,332.2 L178.5,332.2" fill="none" stroke="#246224" stroke-width="2.3"/>
<path d="M13.5,384.4 L18.6,384.4 L26.1,384.4 L34.5,384.4 L42.3,384.4 L48.0,384.4 L51.0,384.3 L52.4,384.2 L52.9,384.1 L53.5,384.0 L55.0,383.8 L57.6,383.6 L60.7,383.4 L64.0,383.2 L67.2,382.9 L70.0,382.5 L72.3,382.0 L74.4,381.4 L76.3,380.7 L78.1,379.8 L80.0,378.8 L81.9,377.5 L83.7,375.9 L85.5,374.2 L87.3,372.6 L89.0,371.2 L90.6,370.1 L92.1,369.1 L93.6,368.3 L95.1,367.5 L96.7,366.7 L98.4,365.9 L100.3,365.2 L102.1,364.5 L104.0,363.8 L106.0,363.0 L108.0,362.0 L110.2,360.8 L112.3,359.6 L114.4,358.7 L116.4,358.3 L118.3,358.6 L120.1,359.3 L121.9,360.4 L123.5,361.5 L125.0,362.5 L126.1,363.4 L127.0,364.2 L127.8,365.1 L128.7,365.9 L130.0,366.7 L131.8,367.4 L133.9,368.1 L136.2,368.8 L138.5,369.3 L140.6,369.7 L142.3,369.9 L143.5,369.9 L144.9,369.8 L146.9,369.7 L150.0,369.6 L154.9,369.6 L161.4,369.6 L168.2,369.6 L174.3,369.6 L178.5,369.6" fill="none" stroke="#b88080" stroke-width="6"/>
<path d="M13.5,384.4 L18.6,384.4 L26.1,384.4 L34.5,384.4 L42.3,384.4 L48.0,384.4 L51.0,384.3 L52.4,384.2 L52.9,384.1 L53.5,384.0 L55.0,383.8 L57.6,383.6 L60.7,383.4 L64.0,383.2 L67.2,382.9 L70.0,382.5 L72.3,382.0 L74.4,381.4 L76.3,380.7 L78.1,379.8 L80.0,378.8 L81.9,377.5 L83.7,375.9 L85.5,374.2 L87.3,372.6 L89.0,371.2 L90.6,370.1 L92.1,369.1 L93.6,368.3 L95.1,367.5 L96.7,366.7 L98.4,365.9 L100.3,365.2 L102.1,364.5 L104.0,363.8 L106.0,363.0 L108.0,362.0 L110.2,360.8 L112.3,359.6 L114.4,358.7 L116.4,358.3 L118.3,358.6 L120.1,359.3 L121.9,360.4 L123.5,361.5 L125.0,362.5 L126.1,363.4 L127.0,364.2 L127.8,365.1 L128.7,365.9 L130.0,366.7 L131.8,367.4 L133.9,368.1 L136.2,368.8 L138.5,369.3 L140.6,369.7 L142.3,369.9 L143.5,369.9 L144.9,369.8 L146.9,369.7 L150.0,369.6 L154.9,369.6 L161.4,369.6 L168.2,369.6 L174.3,369.6 L178.5,369.6" fill="none" stroke="#ffffff" stroke-width="4.2" stroke-dasharray="2.2 0.9"/>
<path d="M13.5,384.4 L18.6,384.4 L26.1,384.4 L34.5,384.4 L42.3,384.4 L48.0,384.4 L51.0,384.3 L52.4,384.2 L52.9,384.1 L53.5,384.0 L55.0,383.8 L57.6,383.6 L60.7,383.4 L64.0,383.2 L67.2,382.9 L70.0,382.5 L72.3,382.0 L74.4,381.4 L76.3,380.7 L78.1,379.8 L80.0,378.8 L81.9,377.5 L83.7,375.9 L85.5,374.2 L87.3,372.6 L89.0,371.2 L90.6,370.1 L92.1,369.1 L93.6,368.3 L95.1,367.5 L96.7,366.7 L98.4,365.9 L100.3,365.2 L102.1,364.5 L104.0,363.8 L106.0,363.0 L108.0,362.0 L110.2,360.8 L112.3,359.6 L114.4,358.7 L116.4,358.3 L118.3,358.6 L120.1,359.3 L121.9,360.4 L123.5,361.5 L125.0,362.5 L126.1,363.4 L127.0,364.2 L127.8,365.1 L128.7,365.9 L130.0,366.7 L131.8,367.4 L133.9,368.1 L136.2,368.8 L138.5,369.3 L140.6,369.7 L142.3,369.9 L143.5,369.9 L144.9,369.8 L146.9,369.7 L150.0,369.6 L154.9,369.6 L161.4,369.6 L168.2,369.6 L174.3,369.6 L178.5,369.6" fill="none" stroke="#561010" stroke-width="2.6"/>
<path d="M13.5,406.5 L18.6,406.5 L26.1,406.5 L34.5,406.6 L42.3,406.5 L48.0,406.5 L51.0,406.4 L52.4,406.3 L52.9,406.2 L53.5,406.0 L55.0,405.8 L57.6,405.6 L60.7,405.3 L64.0,405.0 L67.2,404.6 L70.0,404.2 L72.3,403.8 L74.4,403.4 L76.3,403.0 L78.1,402.4 L80.0,401.5 L81.9,400.3 L83.7,398.7 L85.5,397.0 L87.3,395.4 L89.0,394.0 L90.6,392.9 L92.1,391.9 L93.6,391.1 L95.1,390.2 L96.7,389.4 L98.4,388.6 L100.3,387.9 L102.1,387.1 L104.0,386.4 L106.0,385.5 L108.0,384.4 L110.2,383.1 L112.3,381.8 L114.4,380.8 L116.4,380.3 L118.3,380.5 L120.1,381.3 L121.9,382.3 L123.5,383.5 L125.0,384.5 L126.1,385.5 L127.0,386.5 L127.8,387.5 L128.7,388.5 L130.0,389.4 L131.8,390.3 L133.9,391.2 L136.2,392.1 L138.5,392.8 L140.6,393.2 L142.3,393.3 L143.5,393.2 L144.9,392.9 L146.9,392.6 L150.0,392.4 L154.9,392.3 L161.4,392.3 L168.2,392.4 L174.3,392.4 L178.5,392.4" fill="none" stroke="#b88080" stroke-width="6"/>
<path d="M13.5,406.5 L18.6,406.5 L26.1,406.5 L34.5,406.6 L42.3,406.5 L48.0,406.5 L51.0,406.4 L52.4,406.3 L52.9,406.2 L53.5,406.0 L55.0,405.8 L57.6,405.6 L60.7,405.3 L64.0,405.0 L67.2,404.6 L70.0,404.2 L72.3,403.8 L74.4,403.4 L76.3,403.0 L78.1,402.4 L80.0,401.5 L81.9,400.3 L83.7,398.7 L85.5,397.0 L87.3,395.4 L89.0,394.0 L90.6,392.9 L92.1,391.9 L93.6,391.1 L95.1,390.2 L96.7,389.4 L98.4,388.6 L100.3,387.9 L102.1,387.1 L104.0,386.4 L106.0,385.5 L108.0,384.4 L110.2,383.1 L112.3,381.8 L114.4,380.8 L116.4,380.3 L118.3,380.5 L120.1,381.3 L121.9,382.3 L123.5,383.5 L125.0,384.5 L126.1,385.5 L127.0,386.5 L127.8,387.5 L128.7,388.5 L130.0,389.4 L131.8,390.3 L133.9,391.2 L136.2,392.1 L138.5,392.8 L140.6,393.2 L142.3,393.3 L143.5,393.2 L144.9,392.9 L146.9,392.6 L150.0,392.4 L154.9,392.3 L161.4,392.3 L168.2,392.4 L174.3,392.4 L178.5,392.4" fill="none" stroke="#ffffff" stroke-width="4.2" stroke-dasharray="2.2 0.9"/>
<path d="M13.5,406.5 L18.6,406.5 L26.1,406.5 L34.5,406.6 L42.3,406.5 L48.0,406.5 L51.0,406.4 L52.4,406.3 L52.9,406.2 L53.5,406.0 L55.0,405.8 L57.6,405.6 L60.7,405.3 L64.0,405.0 L67.2,404.6 L70.0,404.2 L72.3,403.8 L74.4,403.4 L76.3,403.0 L78.1,402.4 L80.0,401.5 L81.9,400.3 L83.7,398.7 L85.5,397.0 L87.3,395.4 L89.0,394.0 L90.6,392.9 L92.1,391.9 L93.6,391.1 L95.1,390.2 L96.7,389.4 L98.4,388.6 L100.3,387.9 L102.1,387.1 L104.0,386.4 L106.0,385.5 L108.0,384.4 L110.2,383.1 L112.3,381.8 L114.4,380.8 L116.4,380.3 L118.3,380.5 L120.1,381.3 L121.9,382.3 L123.5,383.5 L125.0,384.5 L126.1,385.5 L127.0,386.5 L127.8,387.5 L128.7,388.5 L130.0,389.4 L131.8,390.3 L133.9,391.2 L136.2,392.1 L138.5,392.8 L140.6,393.2 L142.3,393.3 L143.5,393.2 L144.9,392.9 L146.9,392.6 L150.0,392.4 L154.9,392.3 L161.4,392.3 L168.2,392.4 L174.3,392.4 L178.5,392.4" fill="none" stroke="#561010" stroke-width="2.6"/>
<path d="M13.5,430.7 L18.6,430.7 L25.9,430.7 L34.2,430.6 L42.0,430.5 L48.0,430.4 L51.8,430.2 L54.4,429.9 L56.3,429.6 L58.0,429.3 L60.0,428.8 L62.4,428.2 L64.7,427.5 L67.1,426.7 L69.4,426.0 L71.6,425.2 L73.7,424.5 L75.8,423.8 L77.8,423.1 L79.7,422.4 L81.6,421.6 L83.4,420.7 L85.1,419.6 L86.8,418.5 L88.4,417.4 L90.0,416.5 L91.6,415.7 L93.2,415.0 L94.7,414.3 L96.3,413.6 L97.9,413.0 L99.5,412.4 L101.0,411.8 L102.6,411.3 L104.2,410.7 L106.0,410.0 L108.0,409.0 L110.2,407.8 L112.5,406.6 L114.7,405.7 L116.7,405.4 L118.5,405.9 L120.2,406.9 L121.8,408.2 L123.4,409.6 L125.0,410.8 L126.6,411.8 L128.2,412.8 L129.8,413.7 L131.6,414.5 L133.6,415.2 L136.1,415.8 L138.9,416.2 L141.9,416.6 L144.5,416.8 L146.6,417.0 L147.5,417.1 L147.4,417.0 L147.3,416.8 L147.9,416.7 L150.0,416.6 L154.5,416.6 L161.0,416.6 L167.9,416.6 L174.2,416.6 L178.5,416.6" fill="none" stroke="#b88080" stroke-width="6"/>
<path d="M13.5,430.7 L18.6,430.7 L25.9,430.7 L34.2,430.6 L42.0,430.5 L48.0,430.4 L51.8,430.2 L54.4,429.9 L56.3,429.6 L58.0,429.3 L60.0,428.8 L62.4,428.2 L64.7,427.5 L67.1,426.7 L69.4,426.0 L71.6,425.2 L73.7,424.5 L75.8,423.8 L77.8,423.1 L79.7,422.4 L81.6,421.6 L83.4,420.7 L85.1,419.6 L86.8,418.5 L88.4,417.4 L90.0,416.5 L91.6,415.7 L93.2,415.0 L94.7,414.3 L96.3,413.6 L97.9,413.0 L99.5,412.4 L101.0,411.8 L102.6,411.3 L104.2,410.7 L106.0,410.0 L108.0,409.0 L110.2,407.8 L112.5,406.6 L114.7,405.7 L116.7,405.4 L118.5,405.9 L120.2,406.9 L121.8,408.2 L123.4,409.6 L125.0,410.8 L126.6,411.8 L128.2,412.8 L129.8,413.7 L131.6,414.5 L133.6,415.2 L136.1,415.8 L138.9,416.2 L141.9,416.6 L144.5,416.8 L146.6,417.0 L147.5,417.1 L147.4,417.0 L147.3,416.8 L147.9,416.7 L150.0,416.6 L154.5,416.6 L161.0,416.6 L167.9,416.6 L174.2,416.6 L178.5,416.6" fill="none" stroke="#ffffff" stroke-width="4.2" stroke-dasharray="2.2 0.9"/>
<path d="M13.5,430.7 L18.6,430.7 L25.9,430.7 L34.2,430.6 L42.0,430.5 L48.0,430.4 L51.8,430.2 L54.4,429.9 L56.3,429.6 L58.0,429.3 L60.0,428.8 L62.4,428.2 L64.7,427.5 L67.1,426.7 L69.4,426.0 L71.6,425.2 L73.7,424.5 L75.8,423.8 L77.8,423.1 L79.7,422.4 L81.6,421.6 L83.4,420.7 L85.1,419.6 L86.8,418.5 L88.4,417.4 L90.0,416.5 L91.6,415.7 L93.2,415.0 L94.7,414.3 L96.3,413.6 L97.9,413.0 L99.5,412.4 L101.0,411.8 L102.6,411.3 L104.2,410.7 L106.0,410.0 L108.0,409.0 L110.2,407.8 L112.5,406.6 L114.7,405.7 L116.7,405.4 L118.5,405.9 L120.2,406.9 L121.8,408.2 L123.4,409.6 L125.0,410.8 L126.6,411.8 L128.2,412.8 L129.8,413.7 L131.6,414.5 L133.6,415.2 L136.1,415.8 L138.9,416.2 L141.9,416.6 L144.5,416.8 L146.6,417.0 L147.5,417.1 L147.4,417.0 L147.3,416.8 L147.9,416.7 L150.0,416.6 L154.5,416.6 L161.0,416.6 L167.9,416.6 L174.2,416.6 L178.5,416.6" fill="none" stroke="#561010" stroke-width="2.6"/>
<path d="M13.5,453.3 L18.6,453.3 L25.9,453.2 L34.2,453.1 L42.0,453.0 L48.0,452.9 L51.8,452.8 L54.4,452.7 L56.2,452.6 L57.9,452.3 L60.0,452.0 L62.5,451.6 L65.0,451.1 L67.6,450.5 L70.2,449.7 L73.0,448.7 L76.0,447.3 L79.1,445.5 L82.3,443.6 L85.4,441.7 L88.1,440.0 L90.4,438.5 L92.5,437.0 L94.4,435.7 L96.1,434.5 L97.9,433.5 L99.6,432.8 L101.1,432.4 L102.7,432.1 L104.3,431.8 L106.0,431.5 L108.0,431.0 L110.1,430.3 L112.3,429.7 L114.5,429.2 L116.5,429.2 L118.3,429.6 L120.0,430.5 L121.7,431.5 L123.3,432.6 L125.0,433.5 L126.7,434.4 L128.3,435.3 L129.9,436.1 L131.6,436.9 L133.6,437.5 L136.0,438.0 L138.7,438.3 L141.5,438.5 L144.0,438.7 L146.0,438.8 L146.9,438.9 L147.0,438.9 L147.0,438.9 L147.8,438.8 L150.0,438.8 L154.6,438.8 L161.0,438.8 L168.0,438.8 L174.2,438.8 L178.5,438.8" fill="none" stroke="#b88080" stroke-width="6"/>
<path d="M13.5,453.3 L18.6,453.3 L25.9,453.2 L34.2,453.1 L42.0,453.0 L48.0,452.9 L51.8,452.8 L54.4,452.7 L56.2,452.6 L57.9,452.3 L60.0,452.0 L62.5,451.6 L65.0,451.1 L67.6,450.5 L70.2,449.7 L73.0,448.7 L76.0,447.3 L79.1,445.5 L82.3,443.6 L85.4,441.7 L88.1,440.0 L90.4,438.5 L92.5,437.0 L94.4,435.7 L96.1,434.5 L97.9,433.5 L99.6,432.8 L101.1,432.4 L102.7,432.1 L104.3,431.8 L106.0,431.5 L108.0,431.0 L110.1,430.3 L112.3,429.7 L114.5,429.2 L116.5,429.2 L118.3,429.6 L120.0,430.5 L121.7,431.5 L123.3,432.6 L125.0,433.5 L126.7,434.4 L128.3,435.3 L129.9,436.1 L131.6,436.9 L133.6,437.5 L136.0,438.0 L138.7,438.3 L141.5,438.5 L144.0,438.7 L146.0,438.8 L146.9,438.9 L147.0,438.9 L147.0,438.9 L147.8,438.8 L150.0,438.8 L154.6,438.8 L161.0,438.8 L168.0,438.8 L174.2,438.8 L178.5,438.8" fill="none" stroke="#ffffff" stroke-width="4.2" stroke-dasharray="2.2 0.9"/>
<path d="M13.5,453.3 L18.6,453.3 L25.9,453.2 L34.2,453.1 L42.0,453.0 L48.0,452.9 L51.8,452.8 L54.4,452.7 L56.2,452.6 L57.9,452.3 L60.0,452.0 L62.5,451.6 L65.0,451.1 L67.6,450.5 L70.2,449.7 L73.0,448.7 L76.0,447.3 L79.1,445.5 L82.3,443.6 L85.4,441.7 L88.1,440.0 L90.4,438.5 L92.5,437.0 L94.4,435.7 L96.1,434.5 L97.9,433.5 L99.6,432.8 L101.1,432.4 L102.7,432.1 L104.3,431.8 L106.0,431.5 L108.0,431.0 L110.1,430.3 L112.3,429.7 L114.5,429.2 L116.5,429.2 L118.3,429.6 L120.0,430.5 L121.7,431.5 L123.3,432.6 L125.0,433.5 L126.7,434.4 L128.3,435.3 L129.9,436.1 L131.6,436.9 L133.6,437.5 L136.0,438.0 L138.7,438.3 L141.5,438.5 L144.0,438.7 L146.0,438.8 L146.9,438.9 L147.0,438.9 L147.0,438.9 L147.8,438.8 L150.0,438.8 L154.6,438.8 L161.0,438.8 L168.0,438.8 L174.2,438.8 L178.5,438.8" fill="none" stroke="#561010" stroke-width="2.6"/>
<path d="M13.5,490.9 L18.6,490.9 L25.9,490.8 L34.2,490.8 L42.0,490.7 L48.0,490.6 L51.7,490.5 L54.0,490.4 L55.6,490.2 L57.3,490.1 L60.0,489.8 L63.9,489.5 L68.6,489.0 L73.4,488.6 L78.0,488.1 L81.6,487.7 L84.2,487.3 L86.0,487.0 L87.4,486.6 L88.7,486.2 L90.0,485.7 L91.4,485.2 L92.7,484.6 L94.0,484.0 L95.2,483.3 L96.5,482.5 L97.8,481.7 L99.1,480.9 L100.4,479.9 L101.7,478.8 L103.0,477.3 L104.3,475.3 L105.7,472.8 L107.0,470.2 L108.3,467.7 L109.5,465.6 L110.5,464.0 L111.5,462.6 L112.4,461.4 L113.2,460.4 L114.0,459.5 L114.7,458.6 L115.4,457.8 L116.0,457.2 L116.7,456.7 L117.3,456.5 L117.9,456.6 L118.6,456.9 L119.2,457.4 L119.9,457.9 L120.5,458.5 L121.1,459.0 L121.7,459.5 L122.3,460.0 L123.0,460.7 L123.8,461.7 L124.7,463.0 L125.7,464.6 L126.8,466.4 L127.9,468.1 L129.0,469.5 L130.0,470.7 L131.0,471.7 L131.9,472.5 L133.0,473.3 L134.2,474.0 L135.6,474.6 L137.1,475.1 L138.7,475.4 L140.4,475.7 L142.0,476.0 L143.3,476.2 L144.2,476.3 L145.3,476.3 L147.1,476.4 L150.0,476.4 L154.8,476.4 L161.3,476.4 L168.2,476.4 L174.3,476.4 L178.5,476.4" fill="none" stroke="#3a7ca4" stroke-width="6"/>
<path d="M13.5,490.9 L18.6,490.9 L25.9,490.8 L34.2,490.8 L42.0,490.7 L48.0,490.6 L51.7,490.5 L54.0,490.4 L55.6,490.2 L57.3,490.1 L60.0,489.8 L63.9,489.5 L68.6,489.0 L73.4,488.6 L78.0,488.1 L81.6,487.7 L84.2,487.3 L86.0,487.0 L87.4,486.6 L88.7,486.2 L90.0,485.7 L91.4,485.2 L92.7,484.6 L94.0,484.0 L95.2,483.3 L96.5,482.5 L97.8,481.7 L99.1,480.9 L100.4,479.9 L101.7,478.8 L103.0,477.3 L104.3,475.3 L105.7,472.8 L107.0,470.2 L108.3,467.7 L109.5,465.6 L110.5,464.0 L111.5,462.6 L112.4,461.4 L113.2,460.4 L114.0,459.5 L114.7,458.6 L115.4,457.8 L116.0,457.2 L116.7,456.7 L117.3,456.5 L117.9,456.6 L118.6,456.9 L119.2,457.4 L119.9,457.9 L120.5,458.5 L121.1,459.0 L121.7,459.5 L122.3,460.0 L123.0,460.7 L123.8,461.7 L124.7,463.0 L125.7,464.6 L126.8,466.4 L127.9,468.1 L129.0,469.5 L130.0,470.7 L131.0,471.7 L131.9,472.5 L133.0,473.3 L134.2,474.0 L135.6,474.6 L137.1,475.1 L138.7,475.4 L140.4,475.7 L142.0,476.0 L143.3,476.2 L144.2,476.3 L145.3,476.3 L147.1,476.4 L150.0,476.4 L154.8,476.4 L161.3,476.4 L168.2,476.4 L174.3,476.4 L178.5,476.4" fill="none" stroke="#ffffff" stroke-width="3.8" stroke-dasharray="2.2 0.9"/>
<path d="M13.5,490.9 L18.6,490.9 L25.9,490.8 L34.2,490.8 L42.0,490.7 L48.0,490.6 L51.7,490.5 L54.0,490.4 L55.6,490.2 L57.3,490.1 L60.0,489.8 L63.9,489.5 L68.6,489.0 L73.4,488.6 L78.0,488.1 L81.6,487.7 L84.2,487.3 L86.0,487.0 L87.4,486.6 L88.7,486.2 L90.0,485.7 L91.4,485.2 L92.7,484.6 L94.0,484.0 L95.2,483.3 L96.5,482.5 L97.8,481.7 L99.1,480.9 L100.4,479.9 L101.7,478.8 L103.0,477.3 L104.3,475.3 L105.7,472.8 L107.0,470.2 L108.3,467.7 L109.5,465.6 L110.5,464.0 L111.5,462.6 L112.4,461.4 L113.2,460.4 L114.0,459.5 L114.7,458.6 L115.4,457.8 L116.0,457.2 L116.7,456.7 L117.3,456.5 L117.9,456.6 L118.6,456.9 L119.2,457.4 L119.9,457.9 L120.5,458.5 L121.1,459.0 L121.7,459.5 L122.3,460.0 L123.0,460.7 L123.8,461.7 L124.7,463.0 L125.7,464.6 L126.8,466.4 L127.9,468.1 L129.0,469.5 L130.0,470.7 L131.0,471.7 L131.9,472.5 L133.0,473.3 L134.2,474.0 L135.6,474.6 L137.1,475.1 L138.7,475.4 L140.4,475.7 L142.0,476.0 L143.3,476.2 L144.2,476.3 L145.3,476.3 L147.1,476.4 L150.0,476.4 L154.8,476.4 L161.3,476.4 L168.2,476.4 L174.3,476.4 L178.5,476.4" fill="none" stroke="#2a6890" stroke-width="2.2"/>
<path d="M13.5,526.5 L17.3,526.5 L22.7,526.5 L28.9,526.5 L35.0,526.4 L40.0,526.2 L43.8,525.9 L47.1,525.4 L50.0,524.9 L52.6,524.3 L55.3,523.7 L58.0,523.1 L60.6,522.4 L63.0,521.6 L65.3,520.7 L67.3,519.6 L69.1,518.2 L70.6,516.6 L71.9,514.8 L73.1,512.9 L74.3,511.0 L75.3,508.9 L76.2,506.7 L77.0,504.4 L77.9,502.3 L78.8,500.5 L79.8,498.9 L80.9,497.4 L82.0,496.2 L83.1,495.3 L84.3,495.0 L85.5,495.4 L86.7,496.3 L88.0,497.6 L89.2,499.0 L90.5,500.2 L91.8,501.3 L93.0,502.3 L94.3,503.4 L95.6,504.5 L97.0,505.6 L98.5,506.7 L100.1,507.9 L101.7,509.1 L103.3,510.1 L104.6,511.0 L105.6,511.7 L106.3,512.2 L107.0,512.6 L107.8,512.9 L109.0,513.1 L110.4,513.1 L111.7,513.0 L113.4,512.7 L115.8,512.5 L119.3,512.3 L124.2,512.2 L130.2,512.2 L136.9,512.2 L143.7,512.2 L150.0,512.2 L156.3,512.2 L162.9,512.2 L169.3,512.2 L174.7,512.2 L178.5,512.2" fill="none" stroke="#f3fafd" stroke-width="9" transform="translate(0,1)"/>
<path d="M13.5,526.5 L17.3,526.5 L22.7,526.5 L28.9,526.5 L35.0,526.4 L40.0,526.2 L43.8,525.9 L47.1,525.4 L50.0,524.9 L52.6,524.3 L55.3,523.7 L58.0,523.1 L60.6,522.4 L63.0,521.6 L65.3,520.7 L67.3,519.6 L69.1,518.2 L70.6,516.6 L71.9,514.8 L73.1,512.9 L74.3,511.0 L75.3,508.9 L76.2,506.7 L77.0,504.4 L77.9,502.3 L78.8,500.5 L79.8,498.9 L80.9,497.4 L82.0,496.2 L83.1,495.3 L84.3,495.0 L85.5,495.4 L86.7,496.3 L88.0,497.6 L89.2,499.0 L90.5,500.2 L91.8,501.3 L93.0,502.3 L94.3,503.4 L95.6,504.5 L97.0,505.6 L98.5,506.7 L100.1,507.9 L101.7,509.1 L103.3,510.1 L104.6,511.0 L105.6,511.7 L106.3,512.2 L107.0,512.6 L107.8,512.9 L109.0,513.1 L110.4,513.1 L111.7,513.0 L113.4,512.7 L115.8,512.5 L119.3,512.3 L124.2,512.2 L130.2,512.2 L136.9,512.2 L143.7,512.2 L150.0,512.2 L156.3,512.2 L162.9,512.2 L169.3,512.2 L174.7,512.2 L178.5,512.2" fill="none" stroke="#dcf1f8" stroke-width="4.5" transform="translate(0,0.8)"/>
<path d="M13.5,526.5 L17.3,526.5 L22.7,526.5 L28.9,526.5 L35.0,526.4 L40.0,526.2 L43.8,525.9 L47.1,525.4 L50.0,524.9 L52.6,524.3 L55.3,523.7 L58.0,523.1 L60.6,522.4 L63.0,521.6 L65.3,520.7 L67.3,519.6 L69.1,518.2 L70.6,516.6 L71.9,514.8 L73.1,512.9 L74.3,511.0 L75.3,508.9 L76.2,506.7 L77.0,504.4 L77.9,502.3 L78.8,500.5 L79.8,498.9 L80.9,497.4 L82.0,496.2 L83.1,495.3 L84.3,495.0 L85.5,495.4 L86.7,496.3 L88.0,497.6 L89.2,499.0 L90.5,500.2 L91.8,501.3 L93.0,502.3 L94.3,503.4 L95.6,504.5 L97.0,505.6 L98.5,506.7 L100.1,507.9 L101.7,509.1 L103.3,510.1 L104.6,511.0 L105.6,511.7 L106.3,512.2 L107.0,512.6 L107.8,512.9 L109.0,513.1 L110.4,513.1 L111.7,513.0 L113.4,512.7 L115.8,512.5 L119.3,512.3 L124.2,512.2 L130.2,512.2 L136.9,512.2 L143.7,512.2 L150.0,512.2 L156.3,512.2 L162.9,512.2 L169.3,512.2 L174.7,512.2 L178.5,512.2" fill="none" stroke="#2a6f98" stroke-width="2"/>
<path d="M13.5,549.8 L17.9,549.8 L24.3,549.7 L31.6,549.7 L38.8,549.5 L45.0,549.3 L50.2,549.0 L55.0,548.5 L59.5,548.0 L63.6,547.4 L67.3,546.7 L70.6,545.9 L73.4,544.9 L75.9,543.8 L78.2,542.6 L80.3,541.3 L82.2,539.8 L83.9,538.1 L85.4,536.3 L86.9,534.4 L88.5,532.5 L90.3,530.2 L92.1,527.5 L93.9,524.9 L95.8,522.9 L97.6,521.8 L99.3,522.0 L100.9,523.2 L102.5,525.0 L104.3,526.8 L106.3,528.3 L108.6,529.5 L111.0,530.7 L113.6,531.9 L116.4,532.9 L119.3,533.7 L122.5,534.2 L126.1,534.5 L129.8,534.7 L133.3,534.7 L136.6,534.8 L139.3,534.8 L141.5,534.8 L143.7,534.7 L146.4,534.6 L150.0,534.6 L155.2,534.6 L161.7,534.6 L168.4,534.6 L174.4,534.6 L178.5,534.6" fill="none" stroke="#f3fafd" stroke-width="9" transform="translate(0,1)"/>
<path d="M13.5,549.8 L17.9,549.8 L24.3,549.7 L31.6,549.7 L38.8,549.5 L45.0,549.3 L50.2,549.0 L55.0,548.5 L59.5,548.0 L63.6,547.4 L67.3,546.7 L70.6,545.9 L73.4,544.9 L75.9,543.8 L78.2,542.6 L80.3,541.3 L82.2,539.8 L83.9,538.1 L85.4,536.3 L86.9,534.4 L88.5,532.5 L90.3,530.2 L92.1,527.5 L93.9,524.9 L95.8,522.9 L97.6,521.8 L99.3,522.0 L100.9,523.2 L102.5,525.0 L104.3,526.8 L106.3,528.3 L108.6,529.5 L111.0,530.7 L113.6,531.9 L116.4,532.9 L119.3,533.7 L122.5,534.2 L126.1,534.5 L129.8,534.7 L133.3,534.7 L136.6,534.8 L139.3,534.8 L141.5,534.8 L143.7,534.7 L146.4,534.6 L150.0,534.6 L155.2,534.6 L161.7,534.6 L168.4,534.6 L174.4,534.6 L178.5,534.6" fill="none" stroke="#dcf1f8" stroke-width="4.5" transform="translate(0,0.8)"/>
<path d="M13.5,549.8 L17.9,549.8 L24.3,549.7 L31.6,549.7 L38.8,549.5 L45.0,549.3 L50.2,549.0 L55.0,548.5 L59.5,548.0 L63.6,547.4 L67.3,546.7 L70.6,545.9 L73.4,544.9 L75.9,543.8 L78.2,542.6 L80.3,541.3 L82.2,539.8 L83.9,538.1 L85.4,536.3 L86.9,534.4 L88.5,532.5 L90.3,530.2 L92.1,527.5 L93.9,524.9 L95.8,522.9 L97.6,521.8 L99.3,522.0 L100.9,523.2 L102.5,525.0 L104.3,526.8 L106.3,528.3 L108.6,529.5 L111.0,530.7 L113.6,531.9 L116.4,532.9 L119.3,533.7 L122.5,534.2 L126.1,534.5 L129.8,534.7 L133.3,534.7 L136.6,534.8 L139.3,534.8 L141.5,534.8 L143.7,534.7 L146.4,534.6 L150.0,534.6 L155.2,534.6 L161.7,534.6 L168.4,534.6 L174.4,534.6 L178.5,534.6" fill="none" stroke="#2a6f98" stroke-width="2"/>
<path d="M13.5,572.3 L18.5,572.3 L25.9,572.4 L34.1,572.4 L41.9,572.4 L48.0,572.3 L51.8,572.2 L54.3,571.9 L56.1,571.7 L58.0,571.4 L60.8,571.1 L64.7,570.8 L69.4,570.5 L74.2,570.2 L78.7,569.7 L82.5,569.0 L85.4,568.1 L87.6,567.0 L89.5,565.8 L91.3,564.3 L93.3,562.5 L95.5,560.2 L97.8,557.3 L100.0,554.3 L102.1,551.6 L104.1,549.5 L105.8,548.1 L107.4,547.1 L108.8,546.5 L110.2,546.2 L111.7,546.2 L113.1,546.6 L114.5,547.4 L115.9,548.5 L117.4,549.6 L119.3,550.6 L121.6,551.5 L124.1,552.4 L126.8,553.3 L129.6,554.2 L132.3,554.9 L135.0,555.5 L137.9,555.9 L140.6,556.3 L143.1,556.7 L145.2,557.0 L146.3,557.3 L146.6,557.6 L146.8,557.9 L147.7,558.1 L150.0,558.3 L154.6,558.4 L161.1,558.4 L168.0,558.4 L174.2,558.3 L178.5,558.3" fill="none" stroke="#f3fafd" stroke-width="9" transform="translate(0,1)"/>
<path d="M13.5,572.3 L18.5,572.3 L25.9,572.4 L34.1,572.4 L41.9,572.4 L48.0,572.3 L51.8,572.2 L54.3,571.9 L56.1,571.7 L58.0,571.4 L60.8,571.1 L64.7,570.8 L69.4,570.5 L74.2,570.2 L78.7,569.7 L82.5,569.0 L85.4,568.1 L87.6,567.0 L89.5,565.8 L91.3,564.3 L93.3,562.5 L95.5,560.2 L97.8,557.3 L100.0,554.3 L102.1,551.6 L104.1,549.5 L105.8,548.1 L107.4,547.1 L108.8,546.5 L110.2,546.2 L111.7,546.2 L113.1,546.6 L114.5,547.4 L115.9,548.5 L117.4,549.6 L119.3,550.6 L121.6,551.5 L124.1,552.4 L126.8,553.3 L129.6,554.2 L132.3,554.9 L135.0,555.5 L137.9,555.9 L140.6,556.3 L143.1,556.7 L145.2,557.0 L146.3,557.3 L146.6,557.6 L146.8,557.9 L147.7,558.1 L150.0,558.3 L154.6,558.4 L161.1,558.4 L168.0,558.4 L174.2,558.3 L178.5,558.3" fill="none" stroke="#dcf1f8" stroke-width="4.5" transform="translate(0,0.8)"/>
<path d="M13.5,572.3 L18.5,572.3 L25.9,572.4 L34.1,572.4 L41.9,572.4 L48.0,572.3 L51.8,572.2 L54.3,571.9 L56.1,571.7 L58.0,571.4 L60.8,571.1 L64.7,570.8 L69.4,570.5 L74.2,570.2 L78.7,569.7 L82.5,569.0 L85.4,568.1 L87.6,567.0 L89.5,565.8 L91.3,564.3 L93.3,562.5 L95.5,560.2 L97.8,557.3 L100.0,554.3 L102.1,551.6 L104.1,549.5 L105.8,548.1 L107.4,547.1 L108.8,546.5 L110.2,546.2 L111.7,546.2 L113.1,546.6 L114.5,547.4 L115.9,548.5 L117.4,549.6 L119.3,550.6 L121.6,551.5 L124.1,552.4 L126.8,553.3 L129.6,554.2 L132.3,554.9 L135.0,555.5 L137.9,555.9 L140.6,556.3 L143.1,556.7 L145.2,557.0 L146.3,557.3 L146.6,557.6 L146.8,557.9 L147.7,558.1 L150.0,558.3 L154.6,558.4 L161.1,558.4 L168.0,558.4 L174.2,558.3 L178.5,558.3" fill="none" stroke="#2a6f98" stroke-width="2"/>
<path d="M13.5,594.4 L18.5,594.4 L25.9,594.4 L34.1,594.4 L41.9,594.4 L48.0,594.4 L51.7,594.4 L53.9,594.4 L55.6,594.5 L57.6,594.4 L60.8,594.2 L65.7,593.9 L71.7,593.6 L78.1,593.2 L84.1,592.6 L89.0,591.7 L92.6,590.6 L95.4,589.2 L97.7,587.6 L99.8,585.9 L102.0,584.1 L104.4,582.0 L106.7,579.7 L108.9,577.3 L111.0,575.1 L112.8,573.3 L114.4,571.9 L115.7,570.7 L116.9,569.8 L118.1,569.2 L119.3,569.0 L120.5,569.3 L121.7,570.0 L122.9,571.1 L124.2,572.2 L125.8,573.3 L127.7,574.4 L129.8,575.6 L132.1,576.8 L134.4,577.9 L136.6,578.7 L138.9,579.2 L141.3,579.5 L143.7,579.7 L145.8,579.8 L147.4,579.8 L148.0,579.8 L147.8,579.7 L147.5,579.5 L148.0,579.4 L150.0,579.3 L154.5,579.3 L160.9,579.3 L167.9,579.3 L174.2,579.3 L178.5,579.3" fill="none" stroke="#f3fafd" stroke-width="9" transform="translate(0,1)"/>
<path d="M13.5,594.4 L18.5,594.4 L25.9,594.4 L34.1,594.4 L41.9,594.4 L48.0,594.4 L51.7,594.4 L53.9,594.4 L55.6,594.5 L57.6,594.4 L60.8,594.2 L65.7,593.9 L71.7,593.6 L78.1,593.2 L84.1,592.6 L89.0,591.7 L92.6,590.6 L95.4,589.2 L97.7,587.6 L99.8,585.9 L102.0,584.1 L104.4,582.0 L106.7,579.7 L108.9,577.3 L111.0,575.1 L112.8,573.3 L114.4,571.9 L115.7,570.7 L116.9,569.8 L118.1,569.2 L119.3,569.0 L120.5,569.3 L121.7,570.0 L122.9,571.1 L124.2,572.2 L125.8,573.3 L127.7,574.4 L129.8,575.6 L132.1,576.8 L134.4,577.9 L136.6,578.7 L138.9,579.2 L141.3,579.5 L143.7,579.7 L145.8,579.8 L147.4,579.8 L148.0,579.8 L147.8,579.7 L147.5,579.5 L148.0,579.4 L150.0,579.3 L154.5,579.3 L160.9,579.3 L167.9,579.3 L174.2,579.3 L178.5,579.3" fill="none" stroke="#dcf1f8" stroke-width="4.5" transform="translate(0,0.8)"/>
<path d="M13.5,594.4 L18.5,594.4 L25.9,594.4 L34.1,594.4 L41.9,594.4 L48.0,594.4 L51.7,594.4 L53.9,594.4 L55.6,594.5 L57.6,594.4 L60.8,594.2 L65.7,593.9 L71.7,593.6 L78.1,593.2 L84.1,592.6 L89.0,591.7 L92.6,590.6 L95.4,589.2 L97.7,587.6 L99.8,585.9 L102.0,584.1 L104.4,582.0 L106.7,579.7 L108.9,577.3 L111.0,575.1 L112.8,573.3 L114.4,571.9 L115.7,570.7 L116.9,569.8 L118.1,569.2 L119.3,569.0 L120.5,569.3 L121.7,570.0 L122.9,571.1 L124.2,572.2 L125.8,573.3 L127.7,574.4 L129.8,575.6 L132.1,576.8 L134.4,577.9 L136.6,578.7 L138.9,579.2 L141.3,579.5 L143.7,579.7 L145.8,579.8 L147.4,579.8 L148.0,579.8 L147.8,579.7 L147.5,579.5 L148.0,579.4 L150.0,579.3 L154.5,579.3 L160.9,579.3 L167.9,579.3 L174.2,579.3 L178.5,579.3" fill="none" stroke="#2a6f98" stroke-width="2"/>
<path d="M13,603.5 V30 H179 V603.5 M12,599 H180" fill="none" stroke="#000" stroke-width="2"/>
<line x1="41.0" y1="599" x2="41.0" y2="606.0" stroke="#000" stroke-width="2"/>
<line x1="68.8" y1="599" x2="68.8" y2="603.0" stroke="#000" stroke-width="2"/>
<line x1="96.6" y1="599" x2="96.6" y2="606.0" stroke="#000" stroke-width="2"/>
<line x1="124.0" y1="599" x2="124.0" y2="603.0" stroke="#000" stroke-width="2"/>
<line x1="151.3" y1="599" x2="151.3" y2="606.0" stroke="#000" stroke-width="2"/>
<text x="41.0" y="616.3" font-size="9.60" font-weight="normal" text-anchor="middle" fill="#000" font-family="Liberation Sans" textLength="26.0" lengthAdjust="spacingAndGlyphs">11860</text>
<text x="96.6" y="616.3" font-size="9.60" font-weight="normal" text-anchor="middle" fill="#000" font-family="Liberation Sans" textLength="26.0" lengthAdjust="spacingAndGlyphs">11870</text>
<text x="151.3" y="616.3" font-size="9.60" font-weight="normal" text-anchor="middle" fill="#000" font-family="Liberation Sans" textLength="26.0" lengthAdjust="spacingAndGlyphs">11880</text>
<text x="98.7" y="640.6" font-size="11.00" font-weight="bold" text-anchor="middle" fill="#000" font-family="Liberation Sans" textLength="62.4" lengthAdjust="spacingAndGlyphs" stroke="#000" stroke-width="0.2">Energy [eV]</text>
<text x="16.3" y="42.0" font-size="10.50" font-weight="bold" text-anchor="start" fill="#000" font-family="Liberation Sans" textLength="66.7" lengthAdjust="spacingAndGlyphs" stroke="#000" stroke-width="0.25">As(III)-S-NOM</text>
<text x="16.3" y="53.5" font-size="10.50" font-weight="bold" text-anchor="start" fill="#000" font-family="Liberation Sans" textLength="57.2" lengthAdjust="spacingAndGlyphs" stroke="#000" stroke-width="0.25">30 mM S(-II)</text>
<text x="14.6" y="84.2" font-size="10.00" font-weight="normal" text-anchor="start" fill="#000" font-family="Liberation Sans" textLength="52.8" lengthAdjust="spacingAndGlyphs">As(III)-NOM</text>
<text x="14.8" y="123.0" font-size="10.50" font-weight="bold" text-anchor="start" fill="#000" font-family="Liberation Sans" textLength="16.0" lengthAdjust="spacingAndGlyphs" stroke="#000" stroke-width="0.25">4 h</text>
<text x="15.0" y="146.2" font-size="10.50" font-weight="bold" text-anchor="start" fill="#000" font-family="Liberation Sans" textLength="22.3" lengthAdjust="spacingAndGlyphs" stroke="#000" stroke-width="0.25">24 h</text>
<text x="15.0" y="168.2" font-size="10.50" font-weight="bold" text-anchor="start" fill="#000" font-family="Liberation Sans" textLength="22.3" lengthAdjust="spacingAndGlyphs" stroke="#000" stroke-width="0.25">96 h</text>
<text x="15.0" y="190.9" font-size="10.50" font-weight="bold" text-anchor="start" fill="#000" font-family="Liberation Sans" textLength="28.5" lengthAdjust="spacingAndGlyphs" stroke="#000" stroke-width="0.25">192 h</text>
<text x="15.0" y="212.9" font-size="10.50" font-weight="bold" text-anchor="start" fill="#000" font-family="Liberation Sans" textLength="28.5" lengthAdjust="spacingAndGlyphs" stroke="#000" stroke-width="0.25">984 h</text>
<text x="14.8" y="249.9" font-size="10.50" font-weight="bold" text-anchor="start" fill="#000" font-family="Liberation Sans" textLength="16.0" lengthAdjust="spacingAndGlyphs" stroke="#000" stroke-width="0.25">4 h</text>
<text x="15.0" y="273.6" font-size="10.50" font-weight="bold" text-anchor="start" fill="#000" font-family="Liberation Sans" textLength="22.3" lengthAdjust="spacingAndGlyphs" stroke="#000" stroke-width="0.25">24 h</text>
<text x="15.0" y="295.6" font-size="10.50" font-weight="bold" text-anchor="start" fill="#000" font-family="Liberation Sans" textLength="22.3" lengthAdjust="spacingAndGlyphs" stroke="#000" stroke-width="0.25">96 h</text>
<text x="15.0" y="317.6" font-size="10.50" font-weight="bold" text-anchor="start" fill="#000" font-family="Liberation Sans" textLength="28.5" lengthAdjust="spacingAndGlyphs" stroke="#000" stroke-width="0.25">192 h</text>
<text x="15.0" y="340.9" font-size="10.50" font-weight="bold" text-anchor="start" fill="#000" font-family="Liberation Sans" textLength="28.5" lengthAdjust="spacingAndGlyphs" stroke="#000" stroke-width="0.25">984 h</text>
<text x="15.8" y="376.7" font-size="10.50" font-weight="bold" text-anchor="start" fill="#000" font-family="Liberation Sans" textLength="16.0" lengthAdjust="spacingAndGlyphs" stroke="#000" stroke-width="0.25">4 h</text>
<text x="15.0" y="399.9" font-size="10.50" font-weight="bold" text-anchor="start" fill="#000" font-family="Liberation Sans" textLength="22.3" lengthAdjust="spacingAndGlyphs" stroke="#000" stroke-width="0.25">24 h</text>
<text x="15.0" y="424.1" font-size="10.50" font-weight="bold" text-anchor="start" fill="#000" font-family="Liberation Sans" textLength="22.3" lengthAdjust="spacingAndGlyphs" stroke="#000" stroke-width="0.25">96 h</text>
<text x="15.0" y="446.7" font-size="10.50" font-weight="bold" text-anchor="start" fill="#000" font-family="Liberation Sans" textLength="28.5" lengthAdjust="spacingAndGlyphs" stroke="#000" stroke-width="0.25">984 h</text>
<text x="14.6" y="482.2" font-size="10.50" font-weight="bold" text-anchor="start" fill="#000" font-family="Liberation Sans" textLength="58.9" lengthAdjust="spacingAndGlyphs" stroke="#000" stroke-width="0.25">As(V)-NOM</text>
<text x="14.6" y="517.4" font-size="10.50" font-weight="bold" text-anchor="start" fill="#000" font-family="Liberation Sans" textLength="49.4" lengthAdjust="spacingAndGlyphs" stroke="#000" stroke-width="0.25">Orpiment</text>
<text x="14.6" y="545.6" font-size="10.50" font-weight="bold" text-anchor="start" fill="#000" font-family="Liberation Sans" textLength="31.5" lengthAdjust="spacingAndGlyphs" stroke="#000" stroke-width="0.25">As(III)</text>
<text x="14.6" y="567.8" font-size="10.50" font-weight="bold" text-anchor="start" fill="#000" font-family="Liberation Sans" textLength="45.5" lengthAdjust="spacingAndGlyphs" stroke="#000" stroke-width="0.25">MTAs(V)</text>
<text x="14.6" y="589.2" font-size="10.50" font-weight="bold" text-anchor="start" fill="#000" font-family="Liberation Sans" textLength="30.5" lengthAdjust="spacingAndGlyphs" stroke="#000" stroke-width="0.25">As(V)</text>
<text x="42.0" y="109.8" font-size="11.00" font-weight="bold" text-anchor="start" fill="#000" font-family="Liberation Serif" textLength="13.0" lengthAdjust="spacingAndGlyphs" stroke="#000" stroke-width="0.30">pH</text>
<text x="59.9" y="109.8" font-size="11.00" font-weight="bold" text-anchor="start" fill="#000" font-family="Liberation Serif" textLength="15.1" lengthAdjust="spacingAndGlyphs" stroke="#000" stroke-width="0.30">4.5</text>
<text x="40.3" y="237.0" font-size="11.00" font-weight="bold" text-anchor="start" fill="#1f6a1f" font-family="Liberation Serif" textLength="13.3" lengthAdjust="spacingAndGlyphs" stroke="#1f6a1f" stroke-width="0.30">pH</text>
<text x="58.4" y="237.0" font-size="11.00" font-weight="bold" text-anchor="start" fill="#1f6a1f" font-family="Liberation Serif" textLength="14.3" lengthAdjust="spacingAndGlyphs" stroke="#1f6a1f" stroke-width="0.30">7.0</text>
<text x="44.0" y="365.2" font-size="11.00" font-weight="bold" text-anchor="start" fill="#5a1414" font-family="Liberation Serif" textLength="13.9" lengthAdjust="spacingAndGlyphs" stroke="#5a1414" stroke-width="0.30">pH</text>
<text x="61.8" y="365.2" font-size="11.00" font-weight="bold" text-anchor="start" fill="#5a1414" font-family="Liberation Serif" textLength="15.0" lengthAdjust="spacingAndGlyphs" stroke="#5a1414" stroke-width="0.30">8.5</text>
<text x="46.3" y="541.0" font-size="7.50" font-weight="normal" text-anchor="start" fill="#222" font-family="Liberation Sans" font-style="italic">I</text>
<text x="60.8" y="562.8" font-size="7.50" font-weight="normal" text-anchor="start" fill="#222" font-family="Liberation Sans" font-style="italic">II</text>
<text x="45.3" y="585.2" font-size="7.50" font-weight="normal" text-anchor="start" fill="#222" font-family="Liberation Sans" font-style="italic">III</text>
<text x="174.4" y="48.1" font-size="10.30" font-weight="bold" text-anchor="end" fill="#000" font-family="Liberation Sans" textLength="39.6" lengthAdjust="spacingAndGlyphs" stroke="#000" stroke-width="0.3">11867.8</text>
<text x="174.4" y="71.0" font-size="10.30" font-weight="bold" text-anchor="end" fill="#000" font-family="Liberation Sans" textLength="39.6" lengthAdjust="spacingAndGlyphs" stroke="#000" stroke-width="0.3">11869.0</text>
<text x="174.4" y="107.9" font-size="10.30" font-weight="bold" text-anchor="end" fill="#000" font-family="Liberation Sans" textLength="39.6" lengthAdjust="spacingAndGlyphs" stroke="#000" stroke-width="0.3">11868.3</text>
<text x="174.4" y="131.0" font-size="10.30" font-weight="bold" text-anchor="end" fill="#000" font-family="Liberation Sans" textLength="39.6" lengthAdjust="spacingAndGlyphs" stroke="#000" stroke-width="0.3">11868.2</text>
<text x="174.4" y="154.0" font-size="10.30" font-weight="bold" text-anchor="end" fill="#000" font-family="Liberation Sans" textLength="39.6" lengthAdjust="spacingAndGlyphs" stroke="#000" stroke-width="0.3">11868.2</text>
<text x="174.4" y="174.8" font-size="10.30" font-weight="bold" text-anchor="end" fill="#000" font-family="Liberation Sans" textLength="39.6" lengthAdjust="spacingAndGlyphs" stroke="#000" stroke-width="0.3">11868.4</text>
<text x="174.4" y="198.1" font-size="10.30" font-weight="bold" text-anchor="end" fill="#000" font-family="Liberation Sans" textLength="39.6" lengthAdjust="spacingAndGlyphs" stroke="#000" stroke-width="0.3">11868.3</text>
<text x="174.4" y="235.0" font-size="10.30" font-weight="bold" text-anchor="end" fill="#000" font-family="Liberation Sans" textLength="39.6" lengthAdjust="spacingAndGlyphs" stroke="#000" stroke-width="0.3">11868.4</text>
<text x="174.4" y="257.9" font-size="10.30" font-weight="bold" text-anchor="end" fill="#000" font-family="Liberation Sans" textLength="39.6" lengthAdjust="spacingAndGlyphs" stroke="#000" stroke-width="0.3">11868.5</text>
<text x="174.4" y="281.2" font-size="10.30" font-weight="bold" text-anchor="end" fill="#000" font-family="Liberation Sans" textLength="39.6" lengthAdjust="spacingAndGlyphs" stroke="#000" stroke-width="0.3">11868.5</text>
<text x="174.4" y="304.0" font-size="10.30" font-weight="bold" text-anchor="end" fill="#000" font-family="Liberation Sans" textLength="39.6" lengthAdjust="spacingAndGlyphs" stroke="#000" stroke-width="0.3">11868.6</text>
<text x="174.4" y="326.8" font-size="10.30" font-weight="bold" text-anchor="end" fill="#000" font-family="Liberation Sans" textLength="39.6" lengthAdjust="spacingAndGlyphs" stroke="#000" stroke-width="0.3">11868.4</text>
<text x="174.4" y="362.2" font-size="10.30" font-weight="bold" text-anchor="end" fill="#000" font-family="Liberation Sans" textLength="39.6" lengthAdjust="spacingAndGlyphs" stroke="#000" stroke-width="0.3">11868.8</text>
<text x="174.4" y="385.7" font-size="10.30" font-weight="bold" text-anchor="end" fill="#000" font-family="Liberation Sans" textLength="39.6" lengthAdjust="spacingAndGlyphs" stroke="#000" stroke-width="0.3">11868.8</text>
<text x="174.4" y="409.9" font-size="10.30" font-weight="bold" text-anchor="end" fill="#000" font-family="Liberation Sans" textLength="39.6" lengthAdjust="spacingAndGlyphs" stroke="#000" stroke-width="0.3">11868.8</text>
<text x="174.4" y="431.8" font-size="10.30" font-weight="bold" text-anchor="end" fill="#000" font-family="Liberation Sans" textLength="39.6" lengthAdjust="spacingAndGlyphs" stroke="#000" stroke-width="0.3">11868.6</text>
<text x="174.4" y="469.4" font-size="10.30" font-weight="bold" text-anchor="end" fill="#000" font-family="Liberation Sans" textLength="39.6" lengthAdjust="spacingAndGlyphs" stroke="#000" stroke-width="0.3">11872.7</text>
<text x="174.4" y="508.2" font-size="10.30" font-weight="bold" text-anchor="end" fill="#000" font-family="Liberation Sans" textLength="39.6" lengthAdjust="spacingAndGlyphs" stroke="#000" stroke-width="0.3">11866.8</text>
<text x="174.4" y="530.3" font-size="10.30" font-weight="bold" text-anchor="end" fill="#000" font-family="Liberation Sans" textLength="39.6" lengthAdjust="spacingAndGlyphs" stroke="#000" stroke-width="0.3">11869.0</text>
<text x="174.4" y="552.3" font-size="10.30" font-weight="bold" text-anchor="end" fill="#000" font-family="Liberation Sans" textLength="39.6" lengthAdjust="spacingAndGlyphs" stroke="#000" stroke-width="0.3">11871.3</text>
<text x="174.4" y="576.2" font-size="10.30" font-weight="bold" text-anchor="end" fill="#000" font-family="Liberation Sans" textLength="39.6" lengthAdjust="spacingAndGlyphs" stroke="#000" stroke-width="0.3">11872.9</text>
<text x="208.0" y="22.3" font-size="14.50" font-weight="bold" text-anchor="start" fill="#000" font-family="Liberation Sans" textLength="16.8" lengthAdjust="spacingAndGlyphs">(b)</text>
<rect x="259.5" y="117.5" width="14.0" height="83.5" fill="url(#stip)"/>
<rect x="259.5" y="64.5" width="14.0" height="53.0" fill="url(#cross)"/>
<rect x="259.5" y="44.5" width="14.0" height="20.0" fill="url(#hatch)"/>
<line x1="259.5" y1="117.5" x2="273.5" y2="117.5" stroke="#1a0a05" stroke-width="1"/>
<line x1="259.5" y1="64.5" x2="273.5" y2="64.5" stroke="#1a0a05" stroke-width="1"/>
<rect x="259.5" y="44.5" width="14.0" height="156.5" fill="none" stroke="#160804" stroke-width="1.05"/>
<rect x="318.5" y="94.5" width="13.0" height="106.5" fill="url(#stip)"/>
<rect x="318.5" y="44.5" width="13.0" height="50.0" fill="url(#cross)"/>
<line x1="318.5" y1="94.5" x2="331.5" y2="94.5" stroke="#1a0a05" stroke-width="1"/>
<rect x="318.5" y="44.5" width="13.0" height="156.5" fill="none" stroke="#160804" stroke-width="1.05"/>
<rect x="363.5" y="95.5" width="13.0" height="105.5" fill="url(#stip)"/>
<rect x="363.5" y="48.5" width="13.0" height="47.0" fill="url(#cross)"/>
<rect x="363.5" y="44.5" width="13.0" height="4.0" fill="url(#hatch)"/>
<line x1="363.5" y1="95.5" x2="376.5" y2="95.5" stroke="#1a0a05" stroke-width="1"/>
<line x1="363.5" y1="48.5" x2="376.5" y2="48.5" stroke="#1a0a05" stroke-width="1"/>
<rect x="363.5" y="44.5" width="13.0" height="156.5" fill="none" stroke="#160804" stroke-width="1.05"/>
<rect x="385.5" y="118.5" width="14.0" height="82.5" fill="url(#stip)"/>
<rect x="385.5" y="42.5" width="14.0" height="76.0" fill="url(#cross)"/>
<line x1="385.5" y1="118.5" x2="399.5" y2="118.5" stroke="#1a0a05" stroke-width="1"/>
<rect x="385.5" y="42.5" width="14.0" height="158.5" fill="none" stroke="#160804" stroke-width="1.05"/>
<rect x="439.5" y="112.5" width="13.0" height="88.5" fill="url(#stip)"/>
<rect x="439.5" y="45.5" width="13.0" height="67.0" fill="url(#cross)"/>
<rect x="439.5" y="42.5" width="13.0" height="3.0" fill="url(#hatch)"/>
<line x1="439.5" y1="112.5" x2="452.5" y2="112.5" stroke="#1a0a05" stroke-width="1"/>
<line x1="439.5" y1="45.5" x2="452.5" y2="45.5" stroke="#1a0a05" stroke-width="1"/>
<rect x="439.5" y="42.5" width="13.0" height="158.5" fill="none" stroke="#160804" stroke-width="1.05"/>
<polyline points="266.2,64.0 324.4,44.1 370.2,47.5 392.3,42.4 446.0,45.4" fill="none" stroke="#000" stroke-width="1.1"/>
<line x1="266.2" y1="58.1" x2="266.2" y2="70.0" stroke="#000" stroke-width="1.3"/>
<line x1="264.2" y1="58.1" x2="268.2" y2="58.1" stroke="#000" stroke-width="1"/>
<line x1="264.2" y1="70.0" x2="268.2" y2="70.0" stroke="#000" stroke-width="1"/>
<rect x="262.9" y="60.7" width="6.6" height="6.6" fill="#000"/>
<line x1="324.4" y1="36.5" x2="324.4" y2="51.0" stroke="#000" stroke-width="1.3"/>
<line x1="322.4" y1="36.5" x2="326.4" y2="36.5" stroke="#000" stroke-width="1"/>
<line x1="322.4" y1="51.0" x2="326.4" y2="51.0" stroke="#000" stroke-width="1"/>
<rect x="321.1" y="40.8" width="6.6" height="6.6" fill="#000"/>
<line x1="370.2" y1="41.5" x2="370.2" y2="56.1" stroke="#000" stroke-width="1.3"/>
<line x1="368.2" y1="41.5" x2="372.2" y2="41.5" stroke="#000" stroke-width="1"/>
<line x1="368.2" y1="56.1" x2="372.2" y2="56.1" stroke="#000" stroke-width="1"/>
<rect x="366.9" y="44.2" width="6.6" height="6.6" fill="#000"/>
<line x1="392.3" y1="34.5" x2="392.3" y2="50.2" stroke="#000" stroke-width="1.3"/>
<line x1="390.3" y1="34.5" x2="394.3" y2="34.5" stroke="#000" stroke-width="1"/>
<line x1="390.3" y1="50.2" x2="394.3" y2="50.2" stroke="#000" stroke-width="1"/>
<rect x="389.0" y="39.1" width="6.6" height="6.6" fill="#000"/>
<line x1="446.0" y1="37.4" x2="446.0" y2="53.2" stroke="#000" stroke-width="1.3"/>
<line x1="444.0" y1="37.4" x2="448.0" y2="37.4" stroke="#000" stroke-width="1"/>
<line x1="444.0" y1="53.2" x2="448.0" y2="53.2" stroke="#000" stroke-width="1"/>
<rect x="442.7" y="42.1" width="6.6" height="6.6" fill="#000"/>
<path d="M225.5,30.0 V201.5 H456" fill="none" stroke="#000" stroke-width="1.1"/>
<line x1="225.5" y1="201.0" x2="228.5" y2="201.0" stroke="#000" stroke-width="1"/>
<text x="221.0" y="203.6" font-size="9.20" font-weight="bold" text-anchor="end" fill="#222" font-family="Liberation Sans" textLength="14.2" lengthAdjust="spacingAndGlyphs">0.0</text>
<line x1="225.5" y1="185.4" x2="227.5" y2="185.4" stroke="#000" stroke-width="1"/>
<line x1="225.5" y1="169.9" x2="228.5" y2="169.9" stroke="#000" stroke-width="1"/>
<text x="221.0" y="172.5" font-size="9.20" font-weight="bold" text-anchor="end" fill="#222" font-family="Liberation Sans" textLength="14.2" lengthAdjust="spacingAndGlyphs">0.2</text>
<line x1="225.5" y1="154.3" x2="227.5" y2="154.3" stroke="#000" stroke-width="1"/>
<line x1="225.5" y1="138.8" x2="228.5" y2="138.8" stroke="#000" stroke-width="1"/>
<text x="221.0" y="141.4" font-size="9.20" font-weight="bold" text-anchor="end" fill="#222" font-family="Liberation Sans" textLength="14.2" lengthAdjust="spacingAndGlyphs">0.4</text>
<line x1="225.5" y1="123.2" x2="227.5" y2="123.2" stroke="#000" stroke-width="1"/>
<line x1="225.5" y1="107.6" x2="228.5" y2="107.6" stroke="#000" stroke-width="1"/>
<text x="221.0" y="110.2" font-size="9.20" font-weight="bold" text-anchor="end" fill="#222" font-family="Liberation Sans" textLength="14.2" lengthAdjust="spacingAndGlyphs">0.6</text>
<line x1="225.5" y1="92.1" x2="227.5" y2="92.1" stroke="#000" stroke-width="1"/>
<line x1="225.5" y1="76.5" x2="228.5" y2="76.5" stroke="#000" stroke-width="1"/>
<text x="221.0" y="79.1" font-size="9.20" font-weight="bold" text-anchor="end" fill="#222" font-family="Liberation Sans" textLength="14.2" lengthAdjust="spacingAndGlyphs">0.8</text>
<line x1="225.5" y1="61.0" x2="227.5" y2="61.0" stroke="#000" stroke-width="1"/>
<line x1="225.5" y1="45.4" x2="228.5" y2="45.4" stroke="#000" stroke-width="1"/>
<text x="221.0" y="48.0" font-size="9.20" font-weight="bold" text-anchor="end" fill="#222" font-family="Liberation Sans" textLength="14.2" lengthAdjust="spacingAndGlyphs">1.0</text>
<line x1="243.5" y1="202.0" x2="243.5" y2="204.0" stroke="#333" stroke-width="1"/>
<line x1="256.5" y1="202.0" x2="256.5" y2="204.0" stroke="#333" stroke-width="1"/>
<line x1="266.5" y1="202.0" x2="266.5" y2="204.0" stroke="#333" stroke-width="1"/>
<line x1="273.5" y1="202.0" x2="273.5" y2="204.0" stroke="#333" stroke-width="1"/>
<line x1="279.5" y1="202.0" x2="279.5" y2="204.0" stroke="#333" stroke-width="1"/>
<line x1="284.5" y1="202.0" x2="284.5" y2="204.0" stroke="#333" stroke-width="1"/>
<line x1="288.5" y1="202.0" x2="288.5" y2="204.0" stroke="#333" stroke-width="1"/>
<line x1="292.5" y1="202.0" x2="292.5" y2="204.0" stroke="#333" stroke-width="1"/>
<line x1="296.5" y1="202.0" x2="296.5" y2="205.8" stroke="#000" stroke-width="1"/>
<line x1="318.5" y1="202.0" x2="318.5" y2="204.0" stroke="#333" stroke-width="1"/>
<line x1="331.5" y1="202.0" x2="331.5" y2="204.0" stroke="#333" stroke-width="1"/>
<line x1="341.5" y1="202.0" x2="341.5" y2="204.0" stroke="#333" stroke-width="1"/>
<line x1="348.5" y1="202.0" x2="348.5" y2="204.0" stroke="#333" stroke-width="1"/>
<line x1="354.5" y1="202.0" x2="354.5" y2="204.0" stroke="#333" stroke-width="1"/>
<line x1="359.5" y1="202.0" x2="359.5" y2="204.0" stroke="#333" stroke-width="1"/>
<line x1="363.5" y1="202.0" x2="363.5" y2="204.0" stroke="#333" stroke-width="1"/>
<line x1="367.5" y1="202.0" x2="367.5" y2="204.0" stroke="#333" stroke-width="1"/>
<line x1="371.5" y1="202.0" x2="371.5" y2="205.8" stroke="#000" stroke-width="1"/>
<line x1="393.5" y1="202.0" x2="393.5" y2="204.0" stroke="#333" stroke-width="1"/>
<line x1="406.5" y1="202.0" x2="406.5" y2="204.0" stroke="#333" stroke-width="1"/>
<line x1="416.5" y1="202.0" x2="416.5" y2="204.0" stroke="#333" stroke-width="1"/>
<line x1="423.5" y1="202.0" x2="423.5" y2="204.0" stroke="#333" stroke-width="1"/>
<line x1="429.5" y1="202.0" x2="429.5" y2="204.0" stroke="#333" stroke-width="1"/>
<line x1="434.5" y1="202.0" x2="434.5" y2="204.0" stroke="#333" stroke-width="1"/>
<line x1="438.5" y1="202.0" x2="438.5" y2="204.0" stroke="#333" stroke-width="1"/>
<line x1="442.5" y1="202.0" x2="442.5" y2="204.0" stroke="#333" stroke-width="1"/>
<line x1="446.5" y1="202.0" x2="446.5" y2="205.8" stroke="#000" stroke-width="1"/>
<text x="296.7" y="214.9" font-size="8.80" font-weight="normal" text-anchor="middle" fill="#000" font-family="Liberation Sans" textLength="9.6" lengthAdjust="spacingAndGlyphs">10</text>
<text x="371.7" y="214.9" font-size="8.80" font-weight="normal" text-anchor="middle" fill="#000" font-family="Liberation Sans" textLength="14.8" lengthAdjust="spacingAndGlyphs">100</text>
<text x="446.7" y="214.9" font-size="8.80" font-weight="normal" text-anchor="middle" fill="#000" font-family="Liberation Sans" textLength="20.4" lengthAdjust="spacingAndGlyphs">1000</text>
<text x="418.2" y="27.6" font-size="11.00" font-weight="bold" text-anchor="start" fill="#000" font-family="Liberation Serif" textLength="13.3" lengthAdjust="spacingAndGlyphs" stroke="#000" stroke-width="0.25">pH</text>
<text x="436.0" y="27.6" font-size="11.00" font-weight="bold" text-anchor="start" fill="#000" font-family="Liberation Serif" textLength="15.0" lengthAdjust="spacingAndGlyphs" stroke="#000" stroke-width="0.25">4.5</text>
<text transform="translate(200.3,116.0) rotate(-90)" font-size="11.3" font-weight="bold" text-anchor="middle" font-family="Liberation Sans" textLength="121.5" lengthAdjust="spacingAndGlyphs">Calculated ITT fraction</text>
<rect x="259.5" y="346.5" width="14.0" height="53.5" fill="url(#stip)"/>
<rect x="259.5" y="283.5" width="14.0" height="63.0" fill="url(#cross)"/>
<rect x="259.5" y="244.5" width="14.0" height="39.0" fill="url(#hatch)"/>
<line x1="259.5" y1="346.5" x2="273.5" y2="346.5" stroke="#1a0a05" stroke-width="1"/>
<line x1="259.5" y1="283.5" x2="273.5" y2="283.5" stroke="#1a0a05" stroke-width="1"/>
<rect x="259.5" y="244.5" width="14.0" height="155.5" fill="none" stroke="#160804" stroke-width="1.05"/>
<rect x="318.5" y="331.5" width="13.0" height="68.5" fill="url(#stip)"/>
<rect x="318.5" y="267.5" width="13.0" height="64.0" fill="url(#cross)"/>
<rect x="318.5" y="243.5" width="13.0" height="24.0" fill="url(#hatch)"/>
<line x1="318.5" y1="331.5" x2="331.5" y2="331.5" stroke="#1a0a05" stroke-width="1"/>
<line x1="318.5" y1="267.5" x2="331.5" y2="267.5" stroke="#1a0a05" stroke-width="1"/>
<rect x="318.5" y="243.5" width="13.0" height="156.5" fill="none" stroke="#160804" stroke-width="1.05"/>
<rect x="362.5" y="343.5" width="14.0" height="56.5" fill="url(#stip)"/>
<rect x="362.5" y="264.5" width="14.0" height="79.0" fill="url(#cross)"/>
<rect x="362.5" y="243.5" width="14.0" height="21.0" fill="url(#hatch)"/>
<line x1="362.5" y1="343.5" x2="376.5" y2="343.5" stroke="#1a0a05" stroke-width="1"/>
<line x1="362.5" y1="264.5" x2="376.5" y2="264.5" stroke="#1a0a05" stroke-width="1"/>
<rect x="362.5" y="243.5" width="14.0" height="156.5" fill="none" stroke="#160804" stroke-width="1.05"/>
<rect x="385.5" y="343.5" width="13.0" height="56.5" fill="url(#stip)"/>
<rect x="385.5" y="259.5" width="13.0" height="84.0" fill="url(#cross)"/>
<rect x="385.5" y="243.5" width="13.0" height="16.0" fill="url(#hatch)"/>
<line x1="385.5" y1="343.5" x2="398.5" y2="343.5" stroke="#1a0a05" stroke-width="1"/>
<line x1="385.5" y1="259.5" x2="398.5" y2="259.5" stroke="#1a0a05" stroke-width="1"/>
<rect x="385.5" y="243.5" width="13.0" height="156.5" fill="none" stroke="#160804" stroke-width="1.05"/>
<rect x="438.5" y="344.5" width="13.0" height="55.5" fill="url(#stip)"/>
<rect x="438.5" y="280.5" width="13.0" height="64.0" fill="url(#cross)"/>
<rect x="438.5" y="241.5" width="13.0" height="39.0" fill="url(#hatch)"/>
<line x1="438.5" y1="344.5" x2="451.5" y2="344.5" stroke="#1a0a05" stroke-width="1"/>
<line x1="438.5" y1="280.5" x2="451.5" y2="280.5" stroke="#1a0a05" stroke-width="1"/>
<rect x="438.5" y="241.5" width="13.0" height="158.5" fill="none" stroke="#160804" stroke-width="1.05"/>
<polyline points="266.8,283.4 324.7,267.2 369.4,264.2 391.7,258.0 444.5,280.9" fill="none" stroke="#000" stroke-width="1.1"/>
<line x1="266.8" y1="277.5" x2="266.8" y2="289.3" stroke="#000" stroke-width="1.3"/>
<line x1="264.8" y1="277.5" x2="268.8" y2="277.5" stroke="#000" stroke-width="1"/>
<line x1="264.8" y1="289.3" x2="268.8" y2="289.3" stroke="#000" stroke-width="1"/>
<rect x="263.5" y="280.1" width="6.6" height="6.6" fill="#000"/>
<line x1="324.7" y1="261.4" x2="324.7" y2="274.4" stroke="#000" stroke-width="1.3"/>
<line x1="322.7" y1="261.4" x2="326.7" y2="261.4" stroke="#000" stroke-width="1"/>
<line x1="322.7" y1="274.4" x2="326.7" y2="274.4" stroke="#000" stroke-width="1"/>
<rect x="321.4" y="263.9" width="6.6" height="6.6" fill="#000"/>
<line x1="369.4" y1="258.6" x2="369.4" y2="270.0" stroke="#000" stroke-width="1.3"/>
<line x1="367.4" y1="258.6" x2="371.4" y2="258.6" stroke="#000" stroke-width="1"/>
<line x1="367.4" y1="270.0" x2="371.4" y2="270.0" stroke="#000" stroke-width="1"/>
<rect x="366.1" y="260.9" width="6.6" height="6.6" fill="#000"/>
<line x1="391.7" y1="250.6" x2="391.7" y2="266.4" stroke="#000" stroke-width="1.3"/>
<line x1="389.7" y1="250.6" x2="393.7" y2="250.6" stroke="#000" stroke-width="1"/>
<line x1="389.7" y1="266.4" x2="393.7" y2="266.4" stroke="#000" stroke-width="1"/>
<rect x="388.4" y="254.7" width="6.6" height="6.6" fill="#000"/>
<line x1="444.5" y1="274.8" x2="444.5" y2="287.0" stroke="#000" stroke-width="1.3"/>
<line x1="442.5" y1="274.8" x2="446.5" y2="274.8" stroke="#000" stroke-width="1"/>
<line x1="442.5" y1="287.0" x2="446.5" y2="287.0" stroke="#000" stroke-width="1"/>
<rect x="441.2" y="277.6" width="6.6" height="6.6" fill="#000"/>
<path d="M225.5,231.0 V400.5 H456" fill="none" stroke="#000" stroke-width="1.1"/>
<line x1="225.5" y1="400.0" x2="228.5" y2="400.0" stroke="#000" stroke-width="1"/>
<text x="221.0" y="402.6" font-size="9.20" font-weight="bold" text-anchor="end" fill="#222" font-family="Liberation Sans" textLength="14.2" lengthAdjust="spacingAndGlyphs">0.0</text>
<line x1="225.5" y1="384.6" x2="227.5" y2="384.6" stroke="#000" stroke-width="1"/>
<line x1="225.5" y1="369.1" x2="228.5" y2="369.1" stroke="#000" stroke-width="1"/>
<text x="221.0" y="371.7" font-size="9.20" font-weight="bold" text-anchor="end" fill="#222" font-family="Liberation Sans" textLength="14.2" lengthAdjust="spacingAndGlyphs">0.2</text>
<line x1="225.5" y1="353.7" x2="227.5" y2="353.7" stroke="#000" stroke-width="1"/>
<line x1="225.5" y1="338.2" x2="228.5" y2="338.2" stroke="#000" stroke-width="1"/>
<text x="221.0" y="340.8" font-size="9.20" font-weight="bold" text-anchor="end" fill="#222" font-family="Liberation Sans" textLength="14.2" lengthAdjust="spacingAndGlyphs">0.4</text>
<line x1="225.5" y1="322.8" x2="227.5" y2="322.8" stroke="#000" stroke-width="1"/>
<line x1="225.5" y1="307.4" x2="228.5" y2="307.4" stroke="#000" stroke-width="1"/>
<text x="221.0" y="310.0" font-size="9.20" font-weight="bold" text-anchor="end" fill="#222" font-family="Liberation Sans" textLength="14.2" lengthAdjust="spacingAndGlyphs">0.6</text>
<line x1="225.5" y1="291.9" x2="227.5" y2="291.9" stroke="#000" stroke-width="1"/>
<line x1="225.5" y1="276.5" x2="228.5" y2="276.5" stroke="#000" stroke-width="1"/>
<text x="221.0" y="279.1" font-size="9.20" font-weight="bold" text-anchor="end" fill="#222" font-family="Liberation Sans" textLength="14.2" lengthAdjust="spacingAndGlyphs">0.8</text>
<line x1="225.5" y1="261.0" x2="227.5" y2="261.0" stroke="#000" stroke-width="1"/>
<line x1="225.5" y1="245.6" x2="228.5" y2="245.6" stroke="#000" stroke-width="1"/>
<text x="221.0" y="248.2" font-size="9.20" font-weight="bold" text-anchor="end" fill="#222" font-family="Liberation Sans" textLength="14.2" lengthAdjust="spacingAndGlyphs">1.0</text>
<line x1="243.5" y1="401.0" x2="243.5" y2="403.0" stroke="#333" stroke-width="1"/>
<line x1="256.5" y1="401.0" x2="256.5" y2="403.0" stroke="#333" stroke-width="1"/>
<line x1="266.5" y1="401.0" x2="266.5" y2="403.0" stroke="#333" stroke-width="1"/>
<line x1="273.5" y1="401.0" x2="273.5" y2="403.0" stroke="#333" stroke-width="1"/>
<line x1="279.5" y1="401.0" x2="279.5" y2="403.0" stroke="#333" stroke-width="1"/>
<line x1="284.5" y1="401.0" x2="284.5" y2="403.0" stroke="#333" stroke-width="1"/>
<line x1="288.5" y1="401.0" x2="288.5" y2="403.0" stroke="#333" stroke-width="1"/>
<line x1="292.5" y1="401.0" x2="292.5" y2="403.0" stroke="#333" stroke-width="1"/>
<line x1="296.5" y1="401.0" x2="296.5" y2="404.8" stroke="#000" stroke-width="1"/>
<line x1="318.5" y1="401.0" x2="318.5" y2="403.0" stroke="#333" stroke-width="1"/>
<line x1="331.5" y1="401.0" x2="331.5" y2="403.0" stroke="#333" stroke-width="1"/>
<line x1="341.5" y1="401.0" x2="341.5" y2="403.0" stroke="#333" stroke-width="1"/>
<line x1="348.5" y1="401.0" x2="348.5" y2="403.0" stroke="#333" stroke-width="1"/>
<line x1="354.5" y1="401.0" x2="354.5" y2="403.0" stroke="#333" stroke-width="1"/>
<line x1="359.5" y1="401.0" x2="359.5" y2="403.0" stroke="#333" stroke-width="1"/>
<line x1="363.5" y1="401.0" x2="363.5" y2="403.0" stroke="#333" stroke-width="1"/>
<line x1="367.5" y1="401.0" x2="367.5" y2="403.0" stroke="#333" stroke-width="1"/>
<line x1="371.5" y1="401.0" x2="371.5" y2="404.8" stroke="#000" stroke-width="1"/>
<line x1="393.5" y1="401.0" x2="393.5" y2="403.0" stroke="#333" stroke-width="1"/>
<line x1="406.5" y1="401.0" x2="406.5" y2="403.0" stroke="#333" stroke-width="1"/>
<line x1="416.5" y1="401.0" x2="416.5" y2="403.0" stroke="#333" stroke-width="1"/>
<line x1="423.5" y1="401.0" x2="423.5" y2="403.0" stroke="#333" stroke-width="1"/>
<line x1="429.5" y1="401.0" x2="429.5" y2="403.0" stroke="#333" stroke-width="1"/>
<line x1="434.5" y1="401.0" x2="434.5" y2="403.0" stroke="#333" stroke-width="1"/>
<line x1="438.5" y1="401.0" x2="438.5" y2="403.0" stroke="#333" stroke-width="1"/>
<line x1="442.5" y1="401.0" x2="442.5" y2="403.0" stroke="#333" stroke-width="1"/>
<line x1="446.5" y1="401.0" x2="446.5" y2="404.8" stroke="#000" stroke-width="1"/>
<text x="296.7" y="414.5" font-size="8.80" font-weight="normal" text-anchor="middle" fill="#000" font-family="Liberation Sans" textLength="9.6" lengthAdjust="spacingAndGlyphs">10</text>
<text x="371.7" y="414.5" font-size="8.80" font-weight="normal" text-anchor="middle" fill="#000" font-family="Liberation Sans" textLength="14.8" lengthAdjust="spacingAndGlyphs">100</text>
<text x="446.7" y="414.5" font-size="8.80" font-weight="normal" text-anchor="middle" fill="#000" font-family="Liberation Sans" textLength="20.4" lengthAdjust="spacingAndGlyphs">1000</text>
<text x="419.0" y="231.0" font-size="11.00" font-weight="bold" text-anchor="start" fill="#000" font-family="Liberation Serif" textLength="13.4" lengthAdjust="spacingAndGlyphs" stroke="#000" stroke-width="0.25">pH</text>
<text x="436.8" y="231.0" font-size="11.00" font-weight="bold" text-anchor="start" fill="#000" font-family="Liberation Serif" textLength="15.2" lengthAdjust="spacingAndGlyphs" stroke="#000" stroke-width="0.25">7.0</text>
<text transform="translate(200.3,316.0) rotate(-90)" font-size="11.3" font-weight="bold" text-anchor="middle" font-family="Liberation Sans" textLength="121.5" lengthAdjust="spacingAndGlyphs">Calculated ITT fraction</text>
<rect x="260.5" y="593.5" width="13.0" height="6.5" fill="url(#stip)"/>
<rect x="260.5" y="531.5" width="13.0" height="62.0" fill="url(#cross)"/>
<rect x="260.5" y="446.5" width="13.0" height="85.0" fill="url(#hatch)"/>
<line x1="260.5" y1="593.5" x2="273.5" y2="593.5" stroke="#1a0a05" stroke-width="1"/>
<line x1="260.5" y1="531.5" x2="273.5" y2="531.5" stroke="#1a0a05" stroke-width="1"/>
<rect x="260.5" y="446.5" width="13.0" height="153.5" fill="none" stroke="#160804" stroke-width="1.05"/>
<rect x="318.5" y="537.5" width="13.0" height="62.5" fill="url(#cross)"/>
<rect x="318.5" y="446.5" width="13.0" height="91.0" fill="url(#hatch)"/>
<line x1="318.5" y1="537.5" x2="331.5" y2="537.5" stroke="#1a0a05" stroke-width="1"/>
<rect x="318.5" y="446.5" width="13.0" height="153.5" fill="none" stroke="#160804" stroke-width="1.05"/>
<rect x="362.5" y="598.5" width="14.0" height="1.5" fill="url(#stip)"/>
<rect x="362.5" y="528.5" width="14.0" height="70.0" fill="url(#cross)"/>
<rect x="362.5" y="446.5" width="14.0" height="82.0" fill="url(#hatch)"/>
<line x1="362.5" y1="598.5" x2="376.5" y2="598.5" stroke="#1a0a05" stroke-width="1"/>
<line x1="362.5" y1="528.5" x2="376.5" y2="528.5" stroke="#1a0a05" stroke-width="1"/>
<rect x="362.5" y="446.5" width="14.0" height="153.5" fill="none" stroke="#160804" stroke-width="1.05"/>
<rect x="437.5" y="590.5" width="14.0" height="9.5" fill="url(#stip)"/>
<rect x="437.5" y="518.5" width="14.0" height="72.0" fill="url(#cross)"/>
<rect x="437.5" y="446.5" width="14.0" height="72.0" fill="url(#hatch)"/>
<line x1="437.5" y1="590.5" x2="451.5" y2="590.5" stroke="#1a0a05" stroke-width="1"/>
<line x1="437.5" y1="518.5" x2="451.5" y2="518.5" stroke="#1a0a05" stroke-width="1"/>
<rect x="437.5" y="446.5" width="14.0" height="153.5" fill="none" stroke="#160804" stroke-width="1.05"/>
<polyline points="266.8,531.6 324.7,537.9 369.5,528.1 444.3,517.6" fill="none" stroke="#000" stroke-width="1.1"/>
<line x1="266.8" y1="528.0" x2="266.8" y2="535.0" stroke="#000" stroke-width="1.3"/>
<line x1="264.8" y1="528.0" x2="268.8" y2="528.0" stroke="#000" stroke-width="1"/>
<line x1="264.8" y1="535.0" x2="268.8" y2="535.0" stroke="#000" stroke-width="1"/>
<circle cx="266.8" cy="531.6" r="3.3" fill="#000"/>
<line x1="324.7" y1="535.0" x2="324.7" y2="541.0" stroke="#000" stroke-width="1.3"/>
<line x1="322.7" y1="535.0" x2="326.7" y2="535.0" stroke="#000" stroke-width="1"/>
<line x1="322.7" y1="541.0" x2="326.7" y2="541.0" stroke="#000" stroke-width="1"/>
<circle cx="324.7" cy="537.9" r="3.3" fill="#000"/>
<line x1="369.5" y1="525.0" x2="369.5" y2="531.0" stroke="#000" stroke-width="1.3"/>
<line x1="367.5" y1="525.0" x2="371.5" y2="525.0" stroke="#000" stroke-width="1"/>
<line x1="367.5" y1="531.0" x2="371.5" y2="531.0" stroke="#000" stroke-width="1"/>
<circle cx="369.5" cy="528.1" r="3.3" fill="#000"/>
<line x1="444.3" y1="512.0" x2="444.3" y2="524.0" stroke="#000" stroke-width="1.3"/>
<line x1="442.3" y1="512.0" x2="446.3" y2="512.0" stroke="#000" stroke-width="1"/>
<line x1="442.3" y1="524.0" x2="446.3" y2="524.0" stroke="#000" stroke-width="1"/>
<circle cx="444.3" cy="517.6" r="3.3" fill="#000"/>
<path d="M225.5,429.0 V600.5 H456" fill="none" stroke="#000" stroke-width="1.1"/>
<line x1="225.5" y1="600.0" x2="228.5" y2="600.0" stroke="#000" stroke-width="1"/>
<text x="221.0" y="602.6" font-size="9.20" font-weight="bold" text-anchor="end" fill="#222" font-family="Liberation Sans" textLength="14.2" lengthAdjust="spacingAndGlyphs">0.0</text>
<line x1="225.5" y1="584.5" x2="227.5" y2="584.5" stroke="#000" stroke-width="1"/>
<line x1="225.5" y1="569.1" x2="228.5" y2="569.1" stroke="#000" stroke-width="1"/>
<text x="221.0" y="571.7" font-size="9.20" font-weight="bold" text-anchor="end" fill="#222" font-family="Liberation Sans" textLength="14.2" lengthAdjust="spacingAndGlyphs">0.2</text>
<line x1="225.5" y1="553.6" x2="227.5" y2="553.6" stroke="#000" stroke-width="1"/>
<line x1="225.5" y1="538.2" x2="228.5" y2="538.2" stroke="#000" stroke-width="1"/>
<text x="221.0" y="540.8" font-size="9.20" font-weight="bold" text-anchor="end" fill="#222" font-family="Liberation Sans" textLength="14.2" lengthAdjust="spacingAndGlyphs">0.4</text>
<line x1="225.5" y1="522.7" x2="227.5" y2="522.7" stroke="#000" stroke-width="1"/>
<line x1="225.5" y1="507.2" x2="228.5" y2="507.2" stroke="#000" stroke-width="1"/>
<text x="221.0" y="509.8" font-size="9.20" font-weight="bold" text-anchor="end" fill="#222" font-family="Liberation Sans" textLength="14.2" lengthAdjust="spacingAndGlyphs">0.6</text>
<line x1="225.5" y1="491.8" x2="227.5" y2="491.8" stroke="#000" stroke-width="1"/>
<line x1="225.5" y1="476.3" x2="228.5" y2="476.3" stroke="#000" stroke-width="1"/>
<text x="221.0" y="478.9" font-size="9.20" font-weight="bold" text-anchor="end" fill="#222" font-family="Liberation Sans" textLength="14.2" lengthAdjust="spacingAndGlyphs">0.8</text>
<line x1="225.5" y1="460.9" x2="227.5" y2="460.9" stroke="#000" stroke-width="1"/>
<line x1="225.5" y1="445.4" x2="228.5" y2="445.4" stroke="#000" stroke-width="1"/>
<text x="221.0" y="448.0" font-size="9.20" font-weight="bold" text-anchor="end" fill="#222" font-family="Liberation Sans" textLength="14.2" lengthAdjust="spacingAndGlyphs">1.0</text>
<line x1="243.5" y1="601.0" x2="243.5" y2="603.0" stroke="#333" stroke-width="1"/>
<line x1="256.5" y1="601.0" x2="256.5" y2="603.0" stroke="#333" stroke-width="1"/>
<line x1="266.5" y1="601.0" x2="266.5" y2="603.0" stroke="#333" stroke-width="1"/>
<line x1="273.5" y1="601.0" x2="273.5" y2="603.0" stroke="#333" stroke-width="1"/>
<line x1="279.5" y1="601.0" x2="279.5" y2="603.0" stroke="#333" stroke-width="1"/>
<line x1="284.5" y1="601.0" x2="284.5" y2="603.0" stroke="#333" stroke-width="1"/>
<line x1="288.5" y1="601.0" x2="288.5" y2="603.0" stroke="#333" stroke-width="1"/>
<line x1="292.5" y1="601.0" x2="292.5" y2="603.0" stroke="#333" stroke-width="1"/>
<line x1="296.5" y1="601.0" x2="296.5" y2="604.8" stroke="#000" stroke-width="1"/>
<line x1="318.5" y1="601.0" x2="318.5" y2="603.0" stroke="#333" stroke-width="1"/>
<line x1="331.5" y1="601.0" x2="331.5" y2="603.0" stroke="#333" stroke-width="1"/>
<line x1="341.5" y1="601.0" x2="341.5" y2="603.0" stroke="#333" stroke-width="1"/>
<line x1="348.5" y1="601.0" x2="348.5" y2="603.0" stroke="#333" stroke-width="1"/>
<line x1="354.5" y1="601.0" x2="354.5" y2="603.0" stroke="#333" stroke-width="1"/>
<line x1="359.5" y1="601.0" x2="359.5" y2="603.0" stroke="#333" stroke-width="1"/>
<line x1="363.5" y1="601.0" x2="363.5" y2="603.0" stroke="#333" stroke-width="1"/>
<line x1="367.5" y1="601.0" x2="367.5" y2="603.0" stroke="#333" stroke-width="1"/>
<line x1="371.5" y1="601.0" x2="371.5" y2="604.8" stroke="#000" stroke-width="1"/>
<line x1="393.5" y1="601.0" x2="393.5" y2="603.0" stroke="#333" stroke-width="1"/>
<line x1="406.5" y1="601.0" x2="406.5" y2="603.0" stroke="#333" stroke-width="1"/>
<line x1="416.5" y1="601.0" x2="416.5" y2="603.0" stroke="#333" stroke-width="1"/>
<line x1="423.5" y1="601.0" x2="423.5" y2="603.0" stroke="#333" stroke-width="1"/>
<line x1="429.5" y1="601.0" x2="429.5" y2="603.0" stroke="#333" stroke-width="1"/>
<line x1="434.5" y1="601.0" x2="434.5" y2="603.0" stroke="#333" stroke-width="1"/>
<line x1="438.5" y1="601.0" x2="438.5" y2="603.0" stroke="#333" stroke-width="1"/>
<line x1="442.5" y1="601.0" x2="442.5" y2="603.0" stroke="#333" stroke-width="1"/>
<line x1="446.5" y1="601.0" x2="446.5" y2="604.8" stroke="#000" stroke-width="1"/>
<text x="296.7" y="615.6" font-size="8.80" font-weight="normal" text-anchor="middle" fill="#000" font-family="Liberation Sans" textLength="9.6" lengthAdjust="spacingAndGlyphs">10</text>
<text x="371.7" y="615.6" font-size="8.80" font-weight="normal" text-anchor="middle" fill="#000" font-family="Liberation Sans" textLength="14.8" lengthAdjust="spacingAndGlyphs">100</text>
<text x="446.7" y="615.6" font-size="8.80" font-weight="normal" text-anchor="middle" fill="#000" font-family="Liberation Sans" textLength="20.4" lengthAdjust="spacingAndGlyphs">1000</text>
<text x="419.0" y="433.0" font-size="11.00" font-weight="bold" text-anchor="start" fill="#000" font-family="Liberation Serif" textLength="13.4" lengthAdjust="spacingAndGlyphs" stroke="#000" stroke-width="0.25">pH</text>
<text x="436.8" y="433.0" font-size="11.00" font-weight="bold" text-anchor="start" fill="#000" font-family="Liberation Serif" textLength="15.2" lengthAdjust="spacingAndGlyphs" stroke="#000" stroke-width="0.25">8.5</text>
<text transform="translate(200.3,515.0) rotate(-90)" font-size="11.3" font-weight="bold" text-anchor="middle" font-family="Liberation Sans" textLength="121.5" lengthAdjust="spacingAndGlyphs">Calculated ITT fraction</text>
<text x="348.9" y="641.0" font-size="11.00" font-weight="bold" text-anchor="middle" fill="#000" font-family="Liberation Sans" textLength="42.4" lengthAdjust="spacingAndGlyphs" stroke="#000" stroke-width="0.2">Time [h]</text>
<rect x="17" y="663.5" width="37" height="14" fill="url(#lgrid)" stroke="#5a2a10" stroke-width="1.2"/>
<text x="61.8" y="675.3" font-size="10.00" font-weight="bold" text-anchor="start" fill="#000" font-family="Liberation Sans" textLength="183.7" lengthAdjust="spacingAndGlyphs">As(III)-S-NOM, 30 mM S(-II), pH 4.5</text>
<rect x="16.5" y="697.5" width="38" height="14" fill="url(#lhatch)" stroke="#3a3040" stroke-width="1.2"/>
<text x="63.0" y="708.2" font-size="10.00" font-weight="bold" text-anchor="start" fill="#000" font-family="Liberation Sans" textLength="55.5" lengthAdjust="spacingAndGlyphs">As(V)-NOM</text>
<rect x="281.5" y="663.8" width="39" height="15" rx="1.5" fill="url(#lcross)" stroke="#000" stroke-width="1.6"/>
<text x="329.5" y="675.2" font-size="10.00" font-weight="bold" text-anchor="start" fill="#000" font-family="Liberation Sans" textLength="57.0" lengthAdjust="spacingAndGlyphs">As(III)-NOM</text>
<line x1="283" y1="703.8" x2="327.5" y2="703.8" stroke="#000" stroke-width="1.6"/>
<rect x="299" y="697.8" width="13" height="13" fill="#000"/>
<text x="342.7" y="708.2" font-size="10.00" font-weight="bold" text-anchor="start" fill="#000" font-family="Liberation Sans" textLength="110.2" lengthAdjust="spacingAndGlyphs">Sum As(III) fractions</text>
</svg>
</body></html>
